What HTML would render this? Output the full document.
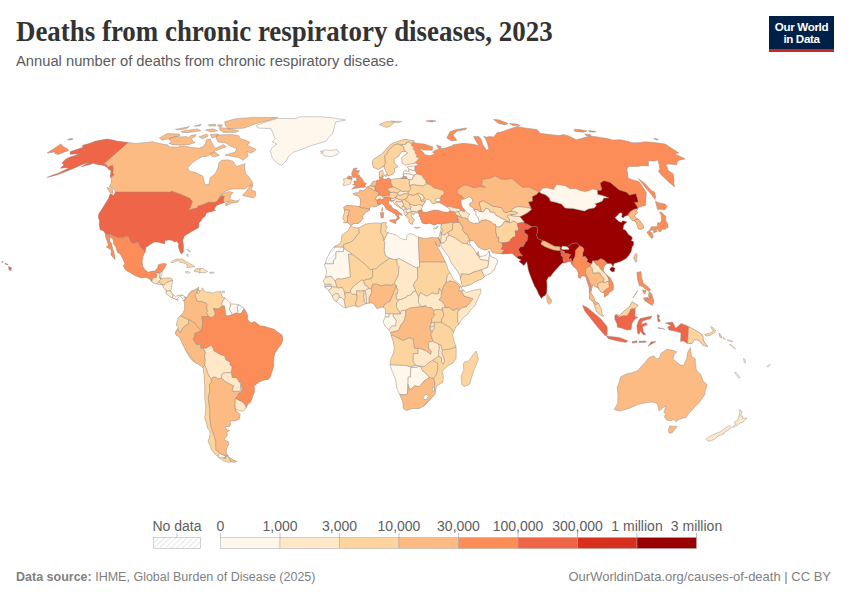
<!DOCTYPE html><html><head><meta charset="utf-8"><style>
body{margin:0;width:850px;height:600px;background:#fff;position:relative;overflow:hidden}
.t{position:absolute;white-space:nowrap;line-height:1}
</style></head><body>
<svg width="850" height="600" style="position:absolute;left:0;top:0">
<defs><pattern id="hatch" width="4" height="4" patternUnits="userSpaceOnUse" patternTransform="rotate(45)"><rect width="4" height="4" fill="#fff"/><line x1="0" y1="0" x2="0" y2="4" stroke="#d4d4d4" stroke-width="1.1"/></pattern><clipPath id="cl-africa"><path d="M350.4,226.0L348.1,230.7L346.4,231.8L342.6,234.6L341.4,237.3L341.7,240.1L339.7,243.8L334.2,246.7L330.5,251.1L327.2,257.7L324.4,265.2L326.0,268.6L326.6,272.3L325.3,277.8L323.0,281.2L325.0,284.6L324.5,287.2L327.2,288.8L329.2,291.6L331.5,294.8L332.6,297.4L334.2,300.3L338.1,303.1L342.2,306.5L345.7,308.1L350.3,306.3L353.8,305.7L358.4,307.1L362.5,305.2L365.8,303.7L370.8,302.9L373.4,303.4L376.8,308.4L380.3,307.8L382.1,306.8L385.4,309.1L385.6,314.6L384.7,318.6L383.1,321.2L384.9,326.1L387.7,328.5L390.5,332.1L391.1,335.3L393.4,342.6L394.2,347.8L393.7,352.5L390.7,359.3L389.9,364.8L391.4,369.3L395.7,379.5L397.0,389.1L399.7,394.4L401.7,399.3L403.2,404.6L403.2,408.5L406.6,410.6L412.2,408.5L419.0,408.5L424.2,405.9L431.8,397.8L435.1,394.1L436.1,387.6L437.1,385.7L443.0,382.1L443.3,375.8L442.0,371.4L447.0,366.4L453.1,362.7L456.1,358.8L456.1,347.0L453.9,340.5L453.6,337.4L452.4,335.3L454.6,330.1L455.8,326.9L458.8,324.3L461.2,320.6L463.5,317.5L467.6,314.4L471.4,309.1L474.9,305.7L477.7,299.2L480.9,292.4L480.7,288.8L477.8,289.5L473.2,290.3L466.4,292.4L462.9,289.8L461.9,289.3L460.9,285.6L458.0,283.0L454.4,279.9L453.2,278.8L450.7,273.9L447.5,268.4L446.8,264.7L442.9,256.9L440.3,251.6L437.8,247.7L435.1,241.4L435.5,243.3L437.7,245.9L439.3,246.9L440.5,242.5L438.5,237.8L434.3,237.8L431.4,237.3L429.0,238.0L424.9,238.6L418.1,237.0L415.8,236.0L413.5,234.4L409.1,233.6L407.0,235.7L406.2,239.9L402.8,239.1L399.7,238.0L396.6,235.2L392.0,233.6L388.2,232.8L385.1,231.0L387.2,227.6L385.7,224.2L386.7,222.6L384.3,222.1L381.4,223.2L375.9,222.9L369.5,223.4L365.2,224.2L361.7,226.3L358.2,227.9L353.2,227.6L351.5,225.8Z" clip-rule="evenodd"/></clipPath><clipPath id="cl-southamerica"><path d="M184.9,296.9L186.9,297.4L189.5,292.4L191.2,290.8L194.2,290.1L199.0,287.2L198.0,289.3L198.5,290.8L199.9,291.1L201.8,289.8L202.4,287.7L203.5,289.5L205.8,292.2L209.0,291.9L212.4,293.2L215.5,291.9L220.5,291.6L222.6,297.4L225.3,297.9L228.9,301.8L231.6,303.9L235.7,304.2L238.7,304.7L242.4,306.8L243.9,308.6L245.3,310.5L247.6,314.9L247.5,319.6L251.0,323.0L254.5,321.4L260.3,326.1L263.7,326.1L267.2,327.2L274.2,329.3L277.6,332.1L281.8,334.8L282.8,338.4L282.7,340.8L280.9,345.0L278.0,348.4L274.8,353.6L273.8,358.3L273.7,365.9L272.8,369.8L271.6,372.7L270.3,377.1L268.2,379.7L265.5,379.7L262.7,380.5L258.7,382.3L254.1,386.3L254.7,391.7L252.9,395.4L251.9,399.3L250.2,402.7L248.3,403.5L246.2,407.7L243.4,411.0L240.6,410.8L236.9,409.8L235.4,408.5L235.6,410.0L238.9,413.4L240.2,414.5L239.5,418.9L235.6,420.7L229.7,421.2L230.8,424.1L229.6,426.7L225.2,426.2L226.1,429.3L229.5,430.6L226.9,431.9L227.4,435.7L224.7,438.3L224.1,439.6L228.7,442.1L228.9,443.9L226.7,448.0L226.2,451.0L226.3,453.8L228.4,455.8L225.5,456.5L223.5,458.5L225.4,458.5L225.3,456.0L219.3,453.5L218.4,456.0L217.5,456.0L214.3,453.5L211.6,449.8L209.7,444.7L208.0,440.9L209.3,438.3L210.0,434.5L209.7,430.6L207.4,428.0L206.6,423.6L204.5,417.6L205.1,415.8L205.5,412.4L205.9,405.9L205.0,400.6L204.8,397.8L204.7,391.5L204.8,386.3L204.3,381.3L204.0,374.5L203.1,368.0L200.6,365.6L195.3,362.7L191.6,360.1L188.5,355.4L186.1,351.0L182.2,343.4L181.1,340.8L178.9,336.6L176.0,335.3L175.4,331.9L177.7,328.5L178.3,326.9L176.2,325.4L177.3,320.9L178.2,318.3L178.9,317.0L181.1,314.9L183.2,312.5L184.6,309.4L184.6,302.6L183.6,300.8L185.7,298.7ZM197.5,290.0L199.0,289.5L199.3,292.8L197.8,293.5Z" clip-rule="evenodd"/></clipPath><clipPath id="cl-northamerica"><path d="M70.1,151.7L76.4,149.6L83.3,147.2L82.1,145.6L90.9,142.9L95.1,141.2L107.0,139.0L113.2,140.1L117.4,141.2L122.3,141.8L128.1,142.5L135.4,143.4L141.0,142.9L150.0,142.1L151.9,141.6L155.6,142.6L162.2,144.0L167.9,144.9L168.8,146.8L178.2,147.3L179.2,145.9L184.8,145.9L190.5,147.3L198.9,148.2L202.7,146.8L205.5,143.5L206.5,139.8L210.2,138.8L211.2,141.6L214.0,146.4L215.9,148.2L223.4,144.5L226.2,146.8L215.0,151.0L206.5,156.7L202.9,156.2L194.1,161.2L187.9,167.4L188.8,170.9L195.9,172.6L202.9,176.2L203.8,179.7L204.7,185.0L209.1,184.1L210.0,177.9L215.3,173.5L217.9,168.2L218.8,162.9L221.5,160.3L227.6,159.8L232.9,161.2L236.5,166.5L241.8,164.7L245.3,163.8L244.4,166.0L245.5,173.3L248.4,176.4L251.8,180.7L253.0,184.4L248.9,185.9L244.9,188.9L233.9,188.9L229.7,189.4L224.8,192.0L218.9,197.1L224.3,193.2L229.0,191.5L233.1,192.5L230.6,195.8L229.9,199.6L234.1,200.6L237.1,200.9L239.6,199.6L237.8,202.2L231.0,203.2L226.2,206.0L225.5,203.7L229.7,201.4L226.5,201.7L224.1,202.7L220.0,204.0L216.6,205.5L214.9,208.1L214.0,209.1L215.5,210.2L212.0,211.5L207.4,212.5L206.0,213.5L205.1,216.4L202.5,218.0L201.4,220.3L199.0,222.9L198.7,227.6L196.2,228.9L192.5,231.0L187.6,233.9L184.4,236.0L182.7,240.4L183.5,245.4L183.3,252.2L181.2,254.0L179.7,251.1L178.5,246.9L178.5,243.3L176.7,241.2L174.4,242.0L172.5,240.4L169.9,240.1L168.1,240.1L164.7,240.7L164.7,243.8L161.9,243.3L158.8,242.2L154.8,242.0L152.4,243.0L148.0,245.9L145.9,247.2L145.1,251.9L143.1,256.3L142.1,261.3L142.7,266.0L144.7,269.4L148.2,272.3L152.7,271.0L154.9,271.2L157.6,267.8L158.5,264.7L160.4,263.9L165.0,263.4L166.5,264.2L164.3,268.6L162.2,271.2L162.1,273.9L160.0,278.0L162.0,278.3L166.6,278.0L171.2,278.0L172.7,280.4L171.5,286.9L170.8,290.8L172.2,293.5L175.5,296.6L179.2,295.0L182.4,295.0L184.9,296.9L185.7,298.7L183.6,300.8L182.5,298.4L180.1,296.3L177.9,297.9L177.8,300.5L175.3,299.2L173.1,298.2L170.4,297.1L165.9,293.5L166.2,290.8L163.5,287.4L162.3,284.8L158.0,284.3L153.5,283.0L151.8,281.7L149.4,278.8L145.7,277.3L141.5,278.0L135.2,275.7L130.3,272.8L125.5,269.9L123.4,266.3L124.8,263.4L123.0,259.0L120.3,254.3L117.4,252.2L115.7,246.7L113.5,243.8L113.3,239.9L110.1,236.5L109.8,241.2L111.7,243.8L112.6,249.0L113.7,251.6L114.7,256.3L115.0,259.7L113.9,258.2L110.9,254.8L111.6,250.3L106.5,246.9L108.5,245.1L106.7,239.9L105.6,237.3L105.7,234.6L104.0,231.2L99.9,229.4L99.3,224.2L99.6,220.8L98.4,217.7L98.7,214.1L103.9,206.0L108.4,198.8L110.4,193.5L113.6,195.5L115.4,192.0L113.8,188.9L109.3,186.9L111.2,183.2L111.3,178.2L110.3,176.9L111.1,170.8L108.2,168.9L107.5,167.7L104.0,165.5L97.6,164.5L93.4,163.3L89.1,164.7L81.5,166.7L89.5,161.9L81.7,164.7L76.3,167.2L67.7,170.8L61.3,173.3L56.5,175.0L47.1,177.4L52.4,175.2L58.4,173.3L69.0,167.9L64.6,167.7L60.3,168.2L64.1,164.7L61.9,162.9L66.0,158.9L70.2,157.0L79.0,154.2L74.9,153.9L70.2,154.2Z" clip-rule="evenodd"/></clipPath><clipPath id="cl-hispaniola"><path d="M194.5,270.2L196.5,268.6L199.0,268.5L203.0,268.6L207.5,271.5L205.0,272.8L201.0,272.5L199.0,273.2L198.0,271.8L196.0,271.8L194.0,271.6Z" clip-rule="evenodd"/></clipPath><clipPath id="cl-tdf"><path d="M228.2,456.3L229.2,457.3L232.7,459.8L237.1,461.5L234.7,462.3L231.2,462.0L228.0,462.3L223.6,461.0L217.8,456.8L225.2,458.0L226.3,456.0Z" clip-rule="evenodd"/></clipPath><clipPath id="cl-newguinea"><path d="M665.5,323.0L672.5,322.0L675.7,328.2L681.2,323.5L688.5,326.4L697.5,331.4L703.0,335.3L703.3,340.5L707.8,346.5L703.3,345.7L699.1,340.5L694.6,339.5L692.0,343.6L687.4,343.4L683.0,340.8L680.6,341.6L680.9,332.7L674.5,331.1L669.0,330.1L667.7,326.9L671.2,325.6Z" clip-rule="evenodd"/></clipPath><clipPath id="cl-borneo"><path d="M614.7,315.7L616.0,314.4L619.3,315.4L623.8,311.2L629.4,306.5L632.1,301.6L638.1,305.5L635.2,308.1L635.0,316.5L637.8,317.2L634.4,319.6L632.0,323.5L631.1,329.5L627.2,330.1L620.3,327.7L617.4,327.2L616.8,323.3L614.8,319.6Z" clip-rule="evenodd"/></clipPath><clipPath id="cl-ireland"><path d="M351.4,176.4L352.3,178.2L351.3,181.2L350.6,183.9L347.2,184.9L343.6,185.9L342.7,184.2L344.3,182.9L343.8,181.2L343.6,178.9L346.5,178.4L347.0,176.9L349.0,175.9Z" clip-rule="evenodd"/></clipPath><clipPath id="cl-eurasia"><path d="M350.9,225.5L349.4,224.2L347.9,222.4L343.8,222.9L344.1,220.3L342.7,218.2L344.6,212.0L344.3,209.4L343.5,207.6L345.5,206.3L346.5,205.3L351.1,205.8L355.1,206.0L358.8,206.6L359.9,206.0L360.5,202.9L360.5,199.1L358.5,196.3L353.9,194.8L353.3,193.5L353.7,193.0L359.0,192.7L359.8,190.2L363.2,190.7L365.2,189.7L366.8,186.9L368.8,186.4L371.1,184.7L372.4,181.9L375.7,180.9L379.9,179.7L379.1,175.7L379.3,171.8L383.0,170.3L383.0,173.3L383.6,174.0L382.3,176.9L382.8,178.4L384.2,179.4L386.5,178.9L388.9,177.9L390.8,179.7L393.3,178.9L399.2,178.4L402.6,177.7L403.5,175.2L403.0,173.3L403.8,171.1L405.5,170.2L408.7,172.0L408.9,168.6L406.7,167.2L408.8,166.2L414.9,166.0L418.8,165.0L415.6,163.1L409.0,164.3L405.5,165.2L402.2,163.3L401.6,157.5L407.0,153.5L407.8,153.0L405.1,151.2L401.5,151.7L399.1,155.8L394.2,159.1L394.3,163.1L398.1,166.4L394.6,168.4L394.2,172.8L392.8,174.2L388.0,175.9L387.3,174.5L385.4,170.3L383.8,166.9L382.8,166.0L382.2,167.2L378.0,169.4L373.4,167.4L372.4,163.8L372.5,161.2L374.0,158.9L378.1,156.5L381.5,154.2L384.7,150.8L387.6,147.8L389.2,145.6L393.1,142.9L394.5,142.5L397.8,141.4L401.6,140.1L405.2,139.5L409.8,139.9L414.4,140.9L412.1,142.2L418.2,143.4L424.3,144.0L432.8,146.9L432.3,150.3L423.6,150.1L418.6,148.3L423.3,152.3L424.6,154.4L428.7,155.6L430.4,155.4L434.4,153.9L432.5,151.9L435.6,149.9L439.0,149.6L436.4,144.9L441.3,146.7L440.3,148.7L445.2,148.1L452.7,145.6L452.9,144.8L462.9,143.2L471.3,144.0L478.9,145.5L475.9,140.9L473.6,136.4L478.9,136.4L481.2,139.4L482.8,144.8L486.6,150.1L488.9,149.4L487.4,143.2L485.1,137.9L483.5,136.4L486.6,137.1L490.4,136.4L493.5,137.1L497.3,132.5L501.9,131.8L508.0,129.5L517.2,126.4L524.8,127.9L537.1,129.5L540.1,133.3L552.4,134.8L559.4,135.5L563.2,134.6L568.8,135.9L576.1,139.7L581.2,138.6L588.1,136.5L588.8,135.9L594.5,136.5L607.3,138.6L612.8,140.1L620.3,139.7L627.6,141.2L631.5,142.7L638.1,142.7L645.2,141.8L654.5,142.5L665.2,144.0L678.9,153.0L674.6,153.7L685.2,158.9L678.4,160.5L677.2,162.4L676.6,164.7L668.3,164.0L665.8,165.0L667.8,168.4L667.8,170.1L673.2,174.0L674.0,179.4L673.8,183.2L674.8,186.9L668.6,181.9L660.9,174.5L658.3,170.8L659.8,169.6L659.5,166.0L657.8,160.0L653.8,161.2L648.5,160.5L648.4,166.0L642.2,165.7L637.8,166.4L628.5,166.4L626.9,169.6L628.3,178.2L632.5,179.7L638.8,181.4L642.1,185.7L644.3,189.4L646.3,192.2L646.0,198.3L645.6,205.5L639.0,207.1L637.7,209.1L636.6,210.4L637.5,213.0L634.7,215.6L635.2,217.2L638.9,219.5L643.5,225.5L643.8,227.9L641.1,229.2L638.7,229.2L636.6,224.2L635.6,221.6L632.0,220.3L630.4,218.7L629.6,216.1L627.7,215.3L624.4,216.4L623.2,218.0L621.6,216.4L622.4,213.8L621.0,212.8L619.5,213.0L617.5,215.3L614.9,217.7L618.8,221.6L621.3,222.4L622.8,220.8L626.9,221.9L624.6,223.9L623.7,225.2L623.0,229.2L625.7,230.2L628.4,234.4L631.7,236.7L632.4,238.6L631.0,240.4L633.7,241.7L633.5,245.1L632.3,246.4L631.1,251.6L628.7,255.6L626.1,258.4L621.0,261.3L617.4,262.6L614.1,263.4L613.1,266.5L611.2,263.4L609.8,263.4L607.4,263.4L604.7,265.2L603.5,268.6L603.3,270.7L605.6,273.9L608.5,276.5L610.0,277.5L613.1,283.5L613.5,287.7L613.0,290.1L609.2,292.4L608.0,294.8L604.2,297.1L604.4,293.7L603.2,292.4L600.8,291.9L598.1,288.0L594.6,286.4L593.2,284.3L592.1,286.9L591.0,292.7L593.8,297.4L594.7,300.8L598.8,303.7L601.6,309.7L602.2,314.4L603.8,315.9L602.0,316.2L598.9,313.8L596.8,311.8L594.3,305.5L593.7,302.6L591.0,300.0L589.3,298.7L589.5,293.5L589.1,287.2L587.2,281.7L585.7,276.5L581.9,275.4L580.4,278.3L578.3,277.5L578.3,272.5L576.0,268.6L573.7,267.1L571.7,264.2L570.4,261.3L567.6,262.1L564.3,262.9L562.3,263.1L559.9,265.2L557.7,267.8L555.1,270.5L552.7,273.3L550.7,276.2L548.3,277.3L546.6,280.4L547.0,285.4L546.7,292.7L545.2,295.6L542.9,296.6L541.4,298.4L538.5,293.7L537.0,290.1L534.5,285.9L531.6,279.1L529.2,272.5L528.4,269.9L527.4,264.4L526.8,261.6L523.9,265.5L518.9,261.3L521.4,260.0L517.4,257.9L513.6,254.8L512.3,253.2L507.9,253.7L503.0,254.0L501.2,253.7L496.6,253.2L492.7,252.7L490.4,249.0L488.8,248.8L485.6,250.1L482.7,249.5L477.9,246.7L476.0,244.1L473.8,240.9L471.5,240.4L469.4,241.2L469.6,243.0L471.1,245.9L473.9,249.0L475.5,251.6L477.2,255.0L478.0,251.4L478.9,253.5L479.2,256.3L481.2,256.3L485.4,255.6L487.2,253.5L488.6,252.2L489.1,250.6L489.9,255.6L492.5,257.4L495.1,257.9L498.0,260.8L495.6,266.3L494.3,269.9L492.2,271.0L491.6,272.8L488.8,274.4L486.1,275.2L482.3,278.8L475.3,281.7L471.8,284.1L466.2,286.1L462.5,286.7L460.6,279.6L459.9,275.4L456.6,269.9L451.7,263.4L448.6,256.6L444.8,251.6L441.0,246.1L440.7,242.5L440.5,242.5L438.5,237.8L439.6,235.7L439.8,233.9L440.6,231.0L441.1,229.7L440.8,226.8L441.3,223.9L439.8,223.9L437.7,223.4L434.5,225.2L432.2,224.2L429.3,223.2L425.7,223.9L424.1,223.4L422.1,222.9L421.4,220.3L420.5,219.3L420.4,216.4L418.9,216.4L419.2,214.8L418.6,213.5L417.9,212.9L414.7,212.8L413.7,215.1L411.6,213.5L411.1,215.1L411.9,216.9L412.9,218.7L414.5,219.8L413.9,220.6L412.8,222.1L412.7,224.2L411.7,224.2L409.9,223.4L408.4,220.8L409.6,219.5L407.3,217.7L406.1,216.4L404.2,213.8L404.0,211.7L402.8,209.7L401.0,208.4L397.2,206.0L394.6,204.5L392.8,201.4L391.1,201.9L391.5,200.6L388.4,201.1L388.6,203.7L391.2,205.8L392.8,208.6L397.1,210.2L398.8,212.2L401.2,213.5L402.2,215.6L399.5,214.1L398.2,216.1L399.6,217.7L398.6,219.3L396.5,220.3L396.8,218.0L397.1,216.4L394.4,213.5L393.1,213.0L391.8,212.0L388.7,210.4L386.3,208.9L384.5,206.0L383.4,204.5L381.5,203.7L378.6,205.3L375.3,207.1L374.1,206.6L372.4,206.3L371.1,206.0L369.5,208.6L369.7,210.2L367.6,211.5L365.5,212.2L364.9,213.3L362.4,216.4L363.4,218.5L361.9,219.5L360.8,221.3L358.2,223.7L357.6,223.4L353.5,223.7L351.3,225.2ZM422.5,211.5L421.6,208.6L422.9,205.3L424.9,202.4L426.2,199.5L428.2,199.1L430.3,200.8L431.1,202.2L432.8,204.1L434.0,203.6L437.3,202.8L439.4,202.6L442.6,204.5L446.8,206.9L449.6,209.0L450.1,211.1L448.0,212.3L443.1,211.9L438.1,210.2L433.6,210.2L430.3,211.1L427.0,212.3L424.1,212.3ZM461.0,200.6L461.7,199.6L464.7,199.1L469.0,196.8L471.7,198.3L472.9,201.4L469.5,203.5L469.8,205.8L473.6,208.6L474.5,211.2L476.0,211.2L475.8,215.1L478.3,218.0L479.3,222.9L474.2,223.4L469.9,221.9L467.9,219.3L468.2,216.4L469.8,214.1L468.1,213.8L464.7,209.9L462.5,207.3L461.2,203.5ZM435.2,199.5L438.1,198.3L440.6,198.7L440.2,201.2L437.3,201.6L435.6,201.2Z" clip-rule="evenodd"/></clipPath></defs>
<path d="M350.9,225.5L349.4,224.2L347.9,222.4L343.8,222.9L344.1,220.3L342.7,218.2L344.6,212.0L344.3,209.4L343.5,207.6L345.5,206.3L346.5,205.3L351.1,205.8L355.1,206.0L358.8,206.6L359.9,206.0L360.5,202.9L360.5,199.1L358.5,196.3L353.9,194.8L353.3,193.5L353.7,193.0L359.0,192.7L359.8,190.2L363.2,190.7L365.2,189.7L366.8,186.9L368.8,186.4L371.1,184.7L372.4,181.9L375.7,180.9L379.9,179.7L379.1,175.7L379.3,171.8L383.0,170.3L383.0,173.3L383.6,174.0L382.3,176.9L382.8,178.4L384.2,179.4L386.5,178.9L388.9,177.9L390.8,179.7L393.3,178.9L399.2,178.4L402.6,177.7L403.5,175.2L403.0,173.3L403.8,171.1L405.5,170.2L408.7,172.0L408.9,168.6L406.7,167.2L408.8,166.2L414.9,166.0L418.8,165.0L415.6,163.1L409.0,164.3L405.5,165.2L402.2,163.3L401.6,157.5L407.0,153.5L407.8,153.0L405.1,151.2L401.5,151.7L399.1,155.8L394.2,159.1L394.3,163.1L398.1,166.4L394.6,168.4L394.2,172.8L392.8,174.2L388.0,175.9L387.3,174.5L385.4,170.3L383.8,166.9L382.8,166.0L382.2,167.2L378.0,169.4L373.4,167.4L372.4,163.8L372.5,161.2L374.0,158.9L378.1,156.5L381.5,154.2L384.7,150.8L387.6,147.8L389.2,145.6L393.1,142.9L394.5,142.5L397.8,141.4L401.6,140.1L405.2,139.5L409.8,139.9L414.4,140.9L412.1,142.2L418.2,143.4L424.3,144.0L432.8,146.9L432.3,150.3L423.6,150.1L418.6,148.3L423.3,152.3L424.6,154.4L428.7,155.6L430.4,155.4L434.4,153.9L432.5,151.9L435.6,149.9L439.0,149.6L436.4,144.9L441.3,146.7L440.3,148.7L445.2,148.1L452.7,145.6L452.9,144.8L462.9,143.2L471.3,144.0L478.9,145.5L475.9,140.9L473.6,136.4L478.9,136.4L481.2,139.4L482.8,144.8L486.6,150.1L488.9,149.4L487.4,143.2L485.1,137.9L483.5,136.4L486.6,137.1L490.4,136.4L493.5,137.1L497.3,132.5L501.9,131.8L508.0,129.5L517.2,126.4L524.8,127.9L537.1,129.5L540.1,133.3L552.4,134.8L559.4,135.5L563.2,134.6L568.8,135.9L576.1,139.7L581.2,138.6L588.1,136.5L588.8,135.9L594.5,136.5L607.3,138.6L612.8,140.1L620.3,139.7L627.6,141.2L631.5,142.7L638.1,142.7L645.2,141.8L654.5,142.5L665.2,144.0L678.9,153.0L674.6,153.7L685.2,158.9L678.4,160.5L677.2,162.4L676.6,164.7L668.3,164.0L665.8,165.0L667.8,168.4L667.8,170.1L673.2,174.0L674.0,179.4L673.8,183.2L674.8,186.9L668.6,181.9L660.9,174.5L658.3,170.8L659.8,169.6L659.5,166.0L657.8,160.0L653.8,161.2L648.5,160.5L648.4,166.0L642.2,165.7L637.8,166.4L628.5,166.4L626.9,169.6L628.3,178.2L632.5,179.7L638.8,181.4L642.1,185.7L644.3,189.4L646.3,192.2L646.0,198.3L645.6,205.5L639.0,207.1L637.7,209.1L636.6,210.4L637.5,213.0L634.7,215.6L635.2,217.2L638.9,219.5L643.5,225.5L643.8,227.9L641.1,229.2L638.7,229.2L636.6,224.2L635.6,221.6L632.0,220.3L630.4,218.7L629.6,216.1L627.7,215.3L624.4,216.4L623.2,218.0L621.6,216.4L622.4,213.8L621.0,212.8L619.5,213.0L617.5,215.3L614.9,217.7L618.8,221.6L621.3,222.4L622.8,220.8L626.9,221.9L624.6,223.9L623.7,225.2L623.0,229.2L625.7,230.2L628.4,234.4L631.7,236.7L632.4,238.6L631.0,240.4L633.7,241.7L633.5,245.1L632.3,246.4L631.1,251.6L628.7,255.6L626.1,258.4L621.0,261.3L617.4,262.6L614.1,263.4L613.1,266.5L611.2,263.4L609.8,263.4L607.4,263.4L604.7,265.2L603.5,268.6L603.3,270.7L605.6,273.9L608.5,276.5L610.0,277.5L613.1,283.5L613.5,287.7L613.0,290.1L609.2,292.4L608.0,294.8L604.2,297.1L604.4,293.7L603.2,292.4L600.8,291.9L598.1,288.0L594.6,286.4L593.2,284.3L592.1,286.9L591.0,292.7L593.8,297.4L594.7,300.8L598.8,303.7L601.6,309.7L602.2,314.4L603.8,315.9L602.0,316.2L598.9,313.8L596.8,311.8L594.3,305.5L593.7,302.6L591.0,300.0L589.3,298.7L589.5,293.5L589.1,287.2L587.2,281.7L585.7,276.5L581.9,275.4L580.4,278.3L578.3,277.5L578.3,272.5L576.0,268.6L573.7,267.1L571.7,264.2L570.4,261.3L567.6,262.1L564.3,262.9L562.3,263.1L559.9,265.2L557.7,267.8L555.1,270.5L552.7,273.3L550.7,276.2L548.3,277.3L546.6,280.4L547.0,285.4L546.7,292.7L545.2,295.6L542.9,296.6L541.4,298.4L538.5,293.7L537.0,290.1L534.5,285.9L531.6,279.1L529.2,272.5L528.4,269.9L527.4,264.4L526.8,261.6L523.9,265.5L518.9,261.3L521.4,260.0L517.4,257.9L513.6,254.8L512.3,253.2L507.9,253.7L503.0,254.0L501.2,253.7L496.6,253.2L492.7,252.7L490.4,249.0L488.8,248.8L485.6,250.1L482.7,249.5L477.9,246.7L476.0,244.1L473.8,240.9L471.5,240.4L469.4,241.2L469.6,243.0L471.1,245.9L473.9,249.0L475.5,251.6L477.2,255.0L478.0,251.4L478.9,253.5L479.2,256.3L481.2,256.3L485.4,255.6L487.2,253.5L488.6,252.2L489.1,250.6L489.9,255.6L492.5,257.4L495.1,257.9L498.0,260.8L495.6,266.3L494.3,269.9L492.2,271.0L491.6,272.8L488.8,274.4L486.1,275.2L482.3,278.8L475.3,281.7L471.8,284.1L466.2,286.1L462.5,286.7L460.6,279.6L459.9,275.4L456.6,269.9L451.7,263.4L448.6,256.6L444.8,251.6L441.0,246.1L440.7,242.5L440.5,242.5L438.5,237.8L439.6,235.7L439.8,233.9L440.6,231.0L441.1,229.7L440.8,226.8L441.3,223.9L439.8,223.9L437.7,223.4L434.5,225.2L432.2,224.2L429.3,223.2L425.7,223.9L424.1,223.4L422.1,222.9L421.4,220.3L420.5,219.3L420.4,216.4L418.9,216.4L419.2,214.8L418.6,213.5L417.9,212.9L414.7,212.8L413.7,215.1L411.6,213.5L411.1,215.1L411.9,216.9L412.9,218.7L414.5,219.8L413.9,220.6L412.8,222.1L412.7,224.2L411.7,224.2L409.9,223.4L408.4,220.8L409.6,219.5L407.3,217.7L406.1,216.4L404.2,213.8L404.0,211.7L402.8,209.7L401.0,208.4L397.2,206.0L394.6,204.5L392.8,201.4L391.1,201.9L391.5,200.6L388.4,201.1L388.6,203.7L391.2,205.8L392.8,208.6L397.1,210.2L398.8,212.2L401.2,213.5L402.2,215.6L399.5,214.1L398.2,216.1L399.6,217.7L398.6,219.3L396.5,220.3L396.8,218.0L397.1,216.4L394.4,213.5L393.1,213.0L391.8,212.0L388.7,210.4L386.3,208.9L384.5,206.0L383.4,204.5L381.5,203.7L378.6,205.3L375.3,207.1L374.1,206.6L372.4,206.3L371.1,206.0L369.5,208.6L369.7,210.2L367.6,211.5L365.5,212.2L364.9,213.3L362.4,216.4L363.4,218.5L361.9,219.5L360.8,221.3L358.2,223.7L357.6,223.4L353.5,223.7L351.3,225.2ZM422.5,211.5L421.6,208.6L422.9,205.3L424.9,202.4L426.2,199.5L428.2,199.1L430.3,200.8L431.1,202.2L432.8,204.1L434.0,203.6L437.3,202.8L439.4,202.6L442.6,204.5L446.8,206.9L449.6,209.0L450.1,211.1L448.0,212.3L443.1,211.9L438.1,210.2L433.6,210.2L430.3,211.1L427.0,212.3L424.1,212.3ZM461.0,200.6L461.7,199.6L464.7,199.1L469.0,196.8L471.7,198.3L472.9,201.4L469.5,203.5L469.8,205.8L473.6,208.6L474.5,211.2L476.0,211.2L475.8,215.1L478.3,218.0L479.3,222.9L474.2,223.4L469.9,221.9L467.9,219.3L468.2,216.4L469.8,214.1L468.1,213.8L464.7,209.9L462.5,207.3L461.2,203.5ZM435.2,199.5L438.1,198.3L440.6,198.7L440.2,201.2L437.3,201.6L435.6,201.2Z" fill="#fc8d59" fill-rule="evenodd"/>
<path d="M350.4,226.0L348.1,230.7L346.4,231.8L342.6,234.6L341.4,237.3L341.7,240.1L339.7,243.8L334.2,246.7L330.5,251.1L327.2,257.7L324.4,265.2L326.0,268.6L326.6,272.3L325.3,277.8L323.0,281.2L325.0,284.6L324.5,287.2L327.2,288.8L329.2,291.6L331.5,294.8L332.6,297.4L334.2,300.3L338.1,303.1L342.2,306.5L345.7,308.1L350.3,306.3L353.8,305.7L358.4,307.1L362.5,305.2L365.8,303.7L370.8,302.9L373.4,303.4L376.8,308.4L380.3,307.8L382.1,306.8L385.4,309.1L385.6,314.6L384.7,318.6L383.1,321.2L384.9,326.1L387.7,328.5L390.5,332.1L391.1,335.3L393.4,342.6L394.2,347.8L393.7,352.5L390.7,359.3L389.9,364.8L391.4,369.3L395.7,379.5L397.0,389.1L399.7,394.4L401.7,399.3L403.2,404.6L403.2,408.5L406.6,410.6L412.2,408.5L419.0,408.5L424.2,405.9L431.8,397.8L435.1,394.1L436.1,387.6L437.1,385.7L443.0,382.1L443.3,375.8L442.0,371.4L447.0,366.4L453.1,362.7L456.1,358.8L456.1,347.0L453.9,340.5L453.6,337.4L452.4,335.3L454.6,330.1L455.8,326.9L458.8,324.3L461.2,320.6L463.5,317.5L467.6,314.4L471.4,309.1L474.9,305.7L477.7,299.2L480.9,292.4L480.7,288.8L477.8,289.5L473.2,290.3L466.4,292.4L462.9,289.8L461.9,289.3L460.9,285.6L458.0,283.0L454.4,279.9L453.2,278.8L450.7,273.9L447.5,268.4L446.8,264.7L442.9,256.9L440.3,251.6L437.8,247.7L435.1,241.4L435.5,243.3L437.7,245.9L439.3,246.9L440.5,242.5L438.5,237.8L434.3,237.8L431.4,237.3L429.0,238.0L424.9,238.6L418.1,237.0L415.8,236.0L413.5,234.4L409.1,233.6L407.0,235.7L406.2,239.9L402.8,239.1L399.7,238.0L396.6,235.2L392.0,233.6L388.2,232.8L385.1,231.0L387.2,227.6L385.7,224.2L386.7,222.6L384.3,222.1L381.4,223.2L375.9,222.9L369.5,223.4L365.2,224.2L361.7,226.3L358.2,227.9L353.2,227.6L351.5,225.8Z" fill="#fdd49e" fill-rule="evenodd"/>
<path d="M476.1,351.0L477.5,354.9L478.4,360.1L476.5,364.0L475.4,366.7L472.9,373.2L469.9,383.6L468.6,384.9L464.4,386.5L461.9,384.9L461.5,381.0L461.0,375.8L463.8,370.6L463.3,364.0L464.6,361.9L468.7,360.9L472.7,355.1Z" fill="#fdd49e" fill-rule="evenodd"/>
<path d="M547.0,294.0L549.2,296.6L551.6,300.0L551.1,302.9L548.8,304.2L547.6,303.1L546.7,298.7Z" fill="#fdbb84" fill-rule="evenodd"/>
<path d="M365.8,186.7L365.0,185.7L366.4,183.2L363.6,182.2L363.2,180.4L361.8,178.2L360.3,176.9L359.2,175.0L357.3,174.5L358.2,173.3L359.0,171.8L359.6,170.6L356.4,170.6L355.5,169.9L357.4,168.2L353.7,168.2L352.6,170.8L351.6,173.3L352.2,176.2L353.3,177.7L356.6,177.2L356.4,178.9L357.1,180.9L354.2,180.9L353.8,182.4L354.7,183.7L352.5,184.7L355.1,185.4L357.0,185.9L354.7,186.4L351.6,189.2L354.8,188.5L358.2,187.9L360.4,187.4L362.8,187.4L363.6,187.5Z" fill="#fc8d59" fill-rule="evenodd"/>
<path d="M351.4,176.4L352.3,178.2L351.3,181.2L350.6,183.9L347.2,184.9L343.6,185.9L342.7,184.2L344.3,182.9L343.8,181.2L343.6,178.9L346.5,178.4L347.0,176.9L349.0,175.9Z" fill="#fee8c8" fill-rule="evenodd"/>
<path d="M323.9,155.8L323.3,154.2L320.8,153.2L323.7,151.9L320.3,151.7L324.1,149.9L331.0,150.3L337.1,149.6L339.2,152.6L337.4,154.4L330.9,156.8L326.5,156.1Z" fill="#fff7ec" fill-rule="evenodd"/>
<path d="M389.6,220.0L396.5,219.5L395.6,223.7L389.9,221.3Z" fill="#fc8d59" fill-rule="evenodd"/>
<path d="M380.4,212.5L383.7,212.5L383.5,217.4L381.0,218.0Z" fill="#fc8d59" fill-rule="evenodd"/>
<path d="M382.7,207.3L383.0,209.9L382.4,211.5L381.1,210.2Z" fill="#fdbb84" fill-rule="evenodd"/>
<path d="M414.1,227.3L420.2,227.6L416.4,228.4Z" fill="#fdd49e" fill-rule="evenodd"/>
<path d="M433.3,228.1L438.1,226.3L436.8,228.4L434.3,229.2Z" fill="#fee8c8" fill-rule="evenodd"/>
<path d="M379.2,124.5L386.0,121.6L394.7,122.0L389.9,126.4L386.4,127.4L383.9,126.4Z" fill="#fdd49e" fill-rule="evenodd"/>
<path d="M390.9,121.1L401.7,121.4L397.8,122.9Z" fill="#fdd49e" fill-rule="evenodd"/>
<path d="M653.7,138.6L655.8,138.4L658.4,139.9L656.8,139.9Z" fill="#fc8d59" fill-rule="evenodd"/>
<path d="M70.2,138.4L73.2,139.0L71.6,139.7L67.6,139.9Z" fill="#fc8d59" fill-rule="evenodd"/>
<path d="M60.8,144.0L63.5,146.7L67.4,148.7L68.7,150.5L64.5,151.9L58.4,154.4L54.9,153.7L54.9,151.9L47.1,153.0Z" fill="#fc8d59" fill-rule="evenodd"/>
<path d="M661.2,212.0L666.0,216.4L665.5,219.5L668.2,225.5L667.9,228.1L666.4,227.3L665.7,229.2L661.8,229.2L661.7,229.9L660.4,232.0L658.7,231.2L657.8,229.2L653.4,229.9L649.3,230.7L649.6,229.7L651.3,226.8L657.3,226.5L657.8,222.1L659.6,223.4L661.5,220.6L661.2,215.3L659.7,212.0Z" fill="#fc8d59" fill-rule="evenodd"/>
<path d="M657.8,209.9L656.7,206.6L655.4,201.1L658.3,202.7L665.0,204.0L667.1,206.6L664.7,209.9L659.4,209.1Z" fill="#fc8d59" fill-rule="evenodd"/>
<path d="M648.9,230.7L652.1,232.8L653.1,237.5L651.6,238.6L648.0,234.1L646.9,232.3Z" fill="#fc8d59" fill-rule="evenodd"/>
<path d="M653.5,233.1L657.6,231.2L656.2,229.9L653.4,230.5Z" fill="#fc8d59" fill-rule="evenodd"/>
<path d="M638.4,178.7L644.8,183.2L651.6,190.7L654.8,192.2L655.7,197.6L654.9,199.6L651.4,194.5L644.9,186.9Z" fill="#fc8d59" fill-rule="evenodd"/>
<path d="M635.9,253.5L637.2,254.3L636.5,262.1L635.8,262.1L633.7,258.2L635.0,254.3Z" fill="#fdbb84" fill-rule="evenodd"/>
<path d="M612.5,267.1L615.0,268.1L614.3,271.5L612.2,272.0L609.7,269.4L611.0,267.3Z" fill="#990000" fill-rule="evenodd"/>
<path d="M614.7,315.7L616.0,314.4L619.3,315.4L623.8,311.2L629.4,306.5L632.1,301.6L638.1,305.5L635.2,308.1L635.0,316.5L637.8,317.2L634.4,319.6L632.0,323.5L631.1,329.5L627.2,330.1L620.3,327.7L617.4,327.2L616.8,323.3L614.8,319.6Z" fill="#ef6548" fill-rule="evenodd"/>
<path d="M665.5,323.0L672.5,322.0L675.7,328.2L681.2,323.5L688.5,326.4L697.5,331.4L703.0,335.3L703.3,340.5L707.8,346.5L703.3,345.7L699.1,340.5L694.6,339.5L692.0,343.6L687.4,343.4L683.0,340.8L680.6,341.6L680.9,332.7L674.5,331.1L669.0,330.1L667.7,326.9L671.2,325.6Z" fill="#ef6548" fill-rule="evenodd"/>
<path d="M648.0,346.5L651.2,341.8L656.0,341.6L650.5,344.7Z" fill="#ef6548" fill-rule="evenodd"/>
<path d="M638.7,342.6L639.2,341.3L646.2,341.0L645.6,342.3Z" fill="#ef6548" fill-rule="evenodd"/>
<path d="M632.0,343.1L632.3,341.6L637.0,340.8L636.8,342.6Z" fill="#ef6548" fill-rule="evenodd"/>
<path d="M657.4,314.4L659.7,315.7L658.6,318.3L660.5,320.9L658.1,322.0L657.5,318.3Z" fill="#ef6548" fill-rule="evenodd"/>
<path d="M658.4,327.4L664.8,329.5L661.9,328.2L658.9,328.7Z" fill="#ef6548" fill-rule="evenodd"/>
<path d="M690.4,347.6L691.5,356.2L695.3,358.8L695.4,363.8L696.4,370.0L700.8,374.8L703.0,380.8L707.3,384.9L705.0,391.5L704.9,394.4L698.7,403.2L696.1,405.6L693.8,408.2L688.6,413.7L686.0,417.6L679.9,418.9L676.0,421.8L674.0,419.4L670.2,421.0L666.7,419.9L664.4,416.8L665.7,413.2L663.8,412.7L664.6,411.1L665.5,405.9L662.7,408.0L659.0,410.8L657.7,405.1L657.2,403.5L651.9,401.9L647.3,402.5L637.7,404.6L629.5,408.2L619.7,411.1L614.2,409.5L617.7,403.2L618.0,394.9L617.1,387.8L618.4,384.7L620.7,376.8L627.0,373.7L631.9,372.7L637.8,370.6L641.1,366.7L644.8,362.7L649.0,357.5L653.8,355.7L656.2,358.8L659.2,358.5L660.9,353.6L663.0,352.0L667.2,349.1L675.0,351.0L676.8,351.8L674.4,354.4L672.9,358.8L676.8,362.2L680.8,365.1L683.7,365.3L686.6,358.8L687.7,352.3Z" fill="#fdbb84" fill-rule="evenodd"/>
<path d="M669.7,425.9L677.1,426.4L672.5,432.4L669.3,433.4L668.2,430.1Z" fill="#fdbb84" fill-rule="evenodd"/>
<path d="M739.9,409.5L742.1,411.9L740.6,415.8L742.6,416.3L742.5,418.4L747.0,418.1L743.1,422.0L740.5,422.8L737.1,425.4L732.5,427.5L735.6,424.1L734.2,422.3L737.3,420.2L739.4,415.0Z" fill="#fee8c8" fill-rule="evenodd"/>
<path d="M729.6,425.4L731.6,427.2L727.9,430.3L724.4,432.4L723.8,433.9L718.6,435.7L714.4,439.3L710.4,441.1L707.9,441.1L706.0,439.1L708.7,437.0L714.0,434.2L720.0,431.9L724.7,428.5L727.6,426.4Z" fill="#fee8c8" fill-rule="evenodd"/>
<path d="M70.1,151.7L76.4,149.6L83.3,147.2L82.1,145.6L90.9,142.9L95.1,141.2L107.0,139.0L113.2,140.1L117.4,141.2L122.3,141.8L128.1,142.5L135.4,143.4L141.0,142.9L150.0,142.1L151.9,141.6L155.6,142.6L162.2,144.0L167.9,144.9L168.8,146.8L178.2,147.3L179.2,145.9L184.8,145.9L190.5,147.3L198.9,148.2L202.7,146.8L205.5,143.5L206.5,139.8L210.2,138.8L211.2,141.6L214.0,146.4L215.9,148.2L223.4,144.5L226.2,146.8L215.0,151.0L206.5,156.7L202.9,156.2L194.1,161.2L187.9,167.4L188.8,170.9L195.9,172.6L202.9,176.2L203.8,179.7L204.7,185.0L209.1,184.1L210.0,177.9L215.3,173.5L217.9,168.2L218.8,162.9L221.5,160.3L227.6,159.8L232.9,161.2L236.5,166.5L241.8,164.7L245.3,163.8L244.4,166.0L245.5,173.3L248.4,176.4L251.8,180.7L253.0,184.4L248.9,185.9L244.9,188.9L233.9,188.9L229.7,189.4L224.8,192.0L218.9,197.1L224.3,193.2L229.0,191.5L233.1,192.5L230.6,195.8L229.9,199.6L234.1,200.6L237.1,200.9L239.6,199.6L237.8,202.2L231.0,203.2L226.2,206.0L225.5,203.7L229.7,201.4L226.5,201.7L224.1,202.7L220.0,204.0L216.6,205.5L214.9,208.1L214.0,209.1L215.5,210.2L212.0,211.5L207.4,212.5L206.0,213.5L205.1,216.4L202.5,218.0L201.4,220.3L199.0,222.9L198.7,227.6L196.2,228.9L192.5,231.0L187.6,233.9L184.4,236.0L182.7,240.4L183.5,245.4L183.3,252.2L181.2,254.0L179.7,251.1L178.5,246.9L178.5,243.3L176.7,241.2L174.4,242.0L172.5,240.4L169.9,240.1L168.1,240.1L164.7,240.7L164.7,243.8L161.9,243.3L158.8,242.2L154.8,242.0L152.4,243.0L148.0,245.9L145.9,247.2L145.1,251.9L143.1,256.3L142.1,261.3L142.7,266.0L144.7,269.4L148.2,272.3L152.7,271.0L154.9,271.2L157.6,267.8L158.5,264.7L160.4,263.9L165.0,263.4L166.5,264.2L164.3,268.6L162.2,271.2L162.1,273.9L160.0,278.0L162.0,278.3L166.6,278.0L171.2,278.0L172.7,280.4L171.5,286.9L170.8,290.8L172.2,293.5L175.5,296.6L179.2,295.0L182.4,295.0L184.9,296.9L185.7,298.7L183.6,300.8L182.5,298.4L180.1,296.3L177.9,297.9L177.8,300.5L175.3,299.2L173.1,298.2L170.4,297.1L165.9,293.5L166.2,290.8L163.5,287.4L162.3,284.8L158.0,284.3L153.5,283.0L151.8,281.7L149.4,278.8L145.7,277.3L141.5,278.0L135.2,275.7L130.3,272.8L125.5,269.9L123.4,266.3L124.8,263.4L123.0,259.0L120.3,254.3L117.4,252.2L115.7,246.7L113.5,243.8L113.3,239.9L110.1,236.5L109.8,241.2L111.7,243.8L112.6,249.0L113.7,251.6L114.7,256.3L115.0,259.7L113.9,258.2L110.9,254.8L111.6,250.3L106.5,246.9L108.5,245.1L106.7,239.9L105.6,237.3L105.7,234.6L104.0,231.2L99.9,229.4L99.3,224.2L99.6,220.8L98.4,217.7L98.7,214.1L103.9,206.0L108.4,198.8L110.4,193.5L113.6,195.5L115.4,192.0L113.8,188.9L109.3,186.9L111.2,183.2L111.3,178.2L110.3,176.9L111.1,170.8L108.2,168.9L107.5,167.7L104.0,165.5L97.6,164.5L93.4,163.3L89.1,164.7L81.5,166.7L89.5,161.9L81.7,164.7L76.3,167.2L67.7,170.8L61.3,173.3L56.5,175.0L47.1,177.4L52.4,175.2L58.4,173.3L69.0,167.9L64.6,167.7L60.3,168.2L64.1,164.7L61.9,162.9L66.0,158.9L70.2,157.0L79.0,154.2L74.9,153.9L70.2,154.2Z" fill="#fdbb84" fill-rule="evenodd"/>
<path d="M184.9,296.9L186.9,297.4L189.5,292.4L191.2,290.8L194.2,290.1L199.0,287.2L198.0,289.3L198.5,290.8L199.9,291.1L201.8,289.8L202.4,287.7L203.5,289.5L205.8,292.2L209.0,291.9L212.4,293.2L215.5,291.9L220.5,291.6L222.6,297.4L225.3,297.9L228.9,301.8L231.6,303.9L235.7,304.2L238.7,304.7L242.4,306.8L243.9,308.6L245.3,310.5L247.6,314.9L247.5,319.6L251.0,323.0L254.5,321.4L260.3,326.1L263.7,326.1L267.2,327.2L274.2,329.3L277.6,332.1L281.8,334.8L282.8,338.4L282.7,340.8L280.9,345.0L278.0,348.4L274.8,353.6L273.8,358.3L273.7,365.9L272.8,369.8L271.6,372.7L270.3,377.1L268.2,379.7L265.5,379.7L262.7,380.5L258.7,382.3L254.1,386.3L254.7,391.7L252.9,395.4L251.9,399.3L250.2,402.7L248.3,403.5L246.2,407.7L243.4,411.0L240.6,410.8L236.9,409.8L235.4,408.5L235.6,410.0L238.9,413.4L240.2,414.5L239.5,418.9L235.6,420.7L229.7,421.2L230.8,424.1L229.6,426.7L225.2,426.2L226.1,429.3L229.5,430.6L226.9,431.9L227.4,435.7L224.7,438.3L224.1,439.6L228.7,442.1L228.9,443.9L226.7,448.0L226.2,451.0L226.3,453.8L228.4,455.8L225.5,456.5L223.5,458.5L225.4,458.5L225.3,456.0L219.3,453.5L218.4,456.0L217.5,456.0L214.3,453.5L211.6,449.8L209.7,444.7L208.0,440.9L209.3,438.3L210.0,434.5L209.7,430.6L207.4,428.0L206.6,423.6L204.5,417.6L205.1,415.8L205.5,412.4L205.9,405.9L205.0,400.6L204.8,397.8L204.7,391.5L204.8,386.3L204.3,381.3L204.0,374.5L203.1,368.0L200.6,365.6L195.3,362.7L191.6,360.1L188.5,355.4L186.1,351.0L182.2,343.4L181.1,340.8L178.9,336.6L176.0,335.3L175.4,331.9L177.7,328.5L178.3,326.9L176.2,325.4L177.3,320.9L178.2,318.3L178.9,317.0L181.1,314.9L183.2,312.5L184.6,309.4L184.6,302.6L183.6,300.8L185.7,298.7ZM197.5,290.0L199.0,289.5L199.3,292.8L197.8,293.5Z" fill="#fdd49e" fill-rule="evenodd"/>
<path d="M228.2,456.3L229.2,457.3L232.7,459.8L237.1,461.5L234.7,462.3L231.2,462.0L228.0,462.3L223.6,461.0L217.8,456.8L225.2,458.0L226.3,456.0Z" fill="#fdd49e" fill-rule="evenodd"/>
<path d="M170.8,262.4L173.4,260.3L176.9,259.0L182.5,259.2L188.4,262.9L192.0,264.7L194.9,266.8L186.7,267.6L187.4,265.5L185.4,263.4L179.9,262.1L177.9,260.5L173.1,262.6Z" fill="#fdd49e" fill-rule="evenodd"/>
<path d="M255.8,195.8L253.4,198.1L249.6,197.1L242.3,195.5L246.2,191.2L250.0,185.7L253.1,185.4L251.0,189.9L255.3,191.2Z" fill="#fdbb84" fill-rule="evenodd"/>
<path d="M113.2,193.5L109.6,192.2L107.1,187.4L112.4,189.4Z" fill="#fdbb84" fill-rule="evenodd"/>
<path d="M384.1,175.0L387.1,174.5L387.0,176.2L385.1,176.4Z" fill="#fdd49e" fill-rule="evenodd"/>
<path d="M381.8,175.7L383.8,175.9L383.3,176.9L382.1,176.7Z" fill="#fdd49e" fill-rule="evenodd"/>
<path d="M159.4,137.9L166.9,133.6L179.2,134.1L180.1,135.5L173.5,137.4L168.8,138.8L162.2,140.2Z" fill="#fdbb84" fill-rule="evenodd"/>
<path d="M168.8,138.8L174.5,136.5L181.1,136.9L185.8,136.5L188.6,137.4L190.5,135.5L196.1,134.6L195.2,136.5L191.4,138.8L193.3,141.6L195.2,142.6L189.5,144.5L180.1,144.9L173.5,144.9L168.8,143.5L171.6,141.6L169.8,140.2Z" fill="#fdbb84" fill-rule="evenodd"/>
<path d="M175.4,129.4L189.5,126.6L185.8,128.9L177.3,129.9Z" fill="#fdbb84" fill-rule="evenodd"/>
<path d="M181.1,131.3L197.1,128.9L200.8,130.8L187.6,132.7L182.0,132.2Z" fill="#fdbb84" fill-rule="evenodd"/>
<path d="M194.2,126.1L201.3,124.2L199.9,126.1Z" fill="#fdbb84" fill-rule="evenodd"/>
<path d="M198.9,136.9L206.5,134.1L208.4,136.0L202.7,138.8Z" fill="#fdbb84" fill-rule="evenodd"/>
<path d="M205.3,130.0L212.9,128.8L217.6,130.8L211.2,132.0Z" fill="#fdbb84" fill-rule="evenodd"/>
<path d="M210.2,134.6L218.7,134.1L215.9,136.9L212.1,137.9Z" fill="#fdbb84" fill-rule="evenodd"/>
<path d="M208.2,124.7L215.3,124.1L215.9,125.9L209.4,126.1Z" fill="#fdbb84" fill-rule="evenodd"/>
<path d="M217.6,124.7L222.4,124.9L221.8,126.5L218.2,126.5Z" fill="#fdbb84" fill-rule="evenodd"/>
<path d="M219.4,127.6L227.1,128.2L238.8,130.8L235.3,132.4L223.5,132.4L220.0,130.0Z" fill="#fdbb84" fill-rule="evenodd"/>
<path d="M224.7,121.8L235.3,118.8L252.9,117.4L277.6,117.6L268.2,120.6L256.5,123.5L251.8,125.3L243.5,128.2L228.2,128.8L225.3,125.3Z" fill="#fdbb84" fill-rule="evenodd"/>
<path d="M217.0,135.0L232.2,134.4L238.8,135.8L240.2,138.6L245.4,140.1L250.1,142.4L247.3,145.2L256.2,149.5L251.1,153.2L246.8,151.4L248.2,156.1L243.1,160.3L238.8,157.5L232.2,156.5L225.2,155.1L231.3,153.2L235.1,152.3L236.5,148.5L230.0,146.0L226.0,143.0L218.0,142.0L216.0,138.0Z" fill="#fdbb84" fill-rule="evenodd"/>
<path d="M209.5,154.0L215.0,152.0L219.5,155.5L213.0,157.0Z" fill="#fdbb84" fill-rule="evenodd"/>
<path d="M257.7,128.0L271.0,128.7L273.0,133.3L275.0,138.7L272.3,142.0L277.0,144.0L271.7,148.0L270.3,151.3L272.3,158.0L277.0,163.3L281.7,165.3L286.3,160.7L288.3,156.7L293.7,152.0L301.7,149.3L309.7,146.0L319.0,143.3L325.7,141.3L328.3,138.0L332.3,134.0L334.3,127.3L335.7,122.0L345.7,120.0L333.7,118.0L319.0,116.7L300.3,116.7L295.0,118.7L277.7,118.3L265.7,122.0L256.3,125.3Z" fill="#fff7ec" fill-rule="evenodd"/>
<path d="M446.8,137.9L449.9,131.8L456.0,129.5L466.7,127.9L465.9,129.5L457.5,131.0L452.9,134.8L456.8,140.2L451.4,140.9Z" fill="#fc8d59" fill-rule="evenodd"/>
<path d="M493.5,119.5L498.8,119.8L508.0,123.4L505.0,124.9L498.8,123.4Z" fill="#fc8d59" fill-rule="evenodd"/>
<path d="M509.5,123.4L517.2,124.1L520.2,125.6L512.6,125.6Z" fill="#fc8d59" fill-rule="evenodd"/>
<path d="M574.0,129.4L580.0,129.6L587.0,131.0L583.0,132.2L575.0,131.5Z" fill="#fc8d59" fill-rule="evenodd"/>
<path d="M588.8,130.6L596.2,131.4L594.0,132.2L589.0,131.8Z" fill="#fc8d59" fill-rule="evenodd"/>
<path d="M584.7,133.9L590.0,134.5L591.2,136.2L586.0,135.5Z" fill="#fc8d59" fill-rule="evenodd"/>
<path d="M426.0,121.0L431.0,120.3L436.0,121.0L432.0,122.0Z" fill="#fc8d59" fill-rule="evenodd"/>
<path d="M636.8,272.5L641.0,271.6L641.8,278.2L643.4,283.2L647.5,286.5L650.8,289.8L649.2,291.4L645.1,288.9L642.6,286.5L639.3,285.7L637.7,279.9Z" fill="#fc8d59" fill-rule="evenodd"/>
<path d="M642.6,289.8L645.9,290.6L645.1,293.9L643.4,293.1Z" fill="#fc8d59" fill-rule="evenodd"/>
<path d="M649.2,291.4L652.5,294.7L650.8,298.8L648.4,296.4Z" fill="#fc8d59" fill-rule="evenodd"/>
<path d="M643.4,298.0L647.5,297.2L648.4,300.5L645.1,301.3Z" fill="#fc8d59" fill-rule="evenodd"/>
<path d="M645.9,298.8L652.5,296.4L654.1,301.3L652.5,305.4L649.2,303.8L646.7,302.1Z" fill="#fc8d59" fill-rule="evenodd"/>
<path d="M632.7,298.0L637.7,290.6L636.8,292.2L633.5,297.2Z" fill="#fc8d59" fill-rule="evenodd"/>
<path d="M640.1,318.6L651.7,316.1L650.8,318.6L642.6,321.1L641.0,324.4L645.9,322.7L647.5,324.4L642.6,326.8L643.4,331.8L645.9,334.3L643.4,335.1L640.1,331.0L639.3,334.3L637.7,333.4L636.8,326.0L638.5,321.1Z" fill="#ef6548" fill-rule="evenodd"/>
<path d="M582.5,305.4L586.6,307.1L594.8,313.7L601.4,319.4L607.2,326.8L607.2,335.1L605.5,335.9L598.1,327.7L591.5,319.4L584.9,311.2Z" fill="#ef6548" fill-rule="evenodd"/>
<path d="M606.4,335.9L613.0,336.7L619.5,337.5L627.8,340.8L626.1,342.5L616.2,340.8L608.0,338.4Z" fill="#ef6548" fill-rule="evenodd"/>
<path d="M704.5,334.5L710.0,333.0L713.5,331.0L710.5,327.0L711.5,326.5L715.5,330.0L715.0,332.5L710.0,335.5L706.0,336.0Z" fill="#fdd49e" fill-rule="evenodd"/>
<path d="M719.0,333.0L721.0,335.0L722.0,338.0L720.0,337.5Z" fill="#fdd49e" fill-rule="evenodd"/>
<path d="M723.0,337.5L725.5,339.0L725.0,339.5L722.8,338.0Z" fill="#fff7ec" fill-rule="evenodd"/>
<path d="M727.5,339.5L733.0,341.5L732.5,342.2L727.3,340.2Z" fill="#fff7ec" fill-rule="evenodd"/>
<path d="M730.0,344.0L735.5,348.5L735.0,349.0L729.7,344.7Z" fill="#fff7ec" fill-rule="evenodd"/>
<path d="M743.5,358.0L745.0,359.5L745.5,363.0L744.3,362.5Z" fill="#fff7ec" fill-rule="evenodd"/>
<path d="M767.0,366.5L769.5,364.0L770.5,365.0L768.0,367.0Z" fill="#fff7ec" fill-rule="evenodd"/>
<path d="M734.5,372.5L736.0,372.3L740.0,377.5L739.0,378.2Z" fill="#fff7ec" fill-rule="evenodd"/>
<path d="M8.5,266.5L11.5,267.8L11.0,270.5L9.0,270.0Z" fill="#ef6548" fill-rule="evenodd"/>
<path d="M5.0,263.2L8.0,264.3L7.5,265.0L5.0,264.0Z" fill="#ef6548" fill-rule="evenodd"/>
<path d="M2.0,261.5L3.3,261.8L3.0,262.5L1.8,262.2Z" fill="#ef6548" fill-rule="evenodd"/>
<path d="M194.5,270.2L196.5,268.6L199.0,268.5L203.0,268.6L207.5,271.5L205.0,272.8L201.0,272.5L199.0,273.2L198.0,271.8L196.0,271.8L194.0,271.6Z" fill="#fdd49e" fill-rule="evenodd"/>
<path d="M185.0,271.8L188.0,271.4L190.0,272.6L187.0,273.4Z" fill="#fee8c8" fill-rule="evenodd"/>
<path d="M209.5,272.3L213.5,272.1L214.0,273.0L210.0,273.3Z" fill="#fee8c8" fill-rule="evenodd"/>
<path d="M186.5,249.5L188.5,249.8L190.5,251.5L189.0,251.2Z" fill="#fee8c8" fill-rule="evenodd"/>
<path d="M186.8,254.0L188.0,254.3L188.3,256.5L187.2,256.0Z" fill="#fee8c8" fill-rule="evenodd"/>
<path d="M221.8,291.2L224.5,291.0L224.2,292.8L222.0,292.6Z" fill="#fee8c8" fill-rule="evenodd"/>
<path d="M340.9,209.4L344.3,210.2L345.7,209.7L349.1,210.0L349.9,211.0L348.4,212.5L348.5,214.3L348.1,215.9L347.0,216.1L348.0,217.7L347.3,219.8L348.0,220.3L347.0,222.4L347.0,224.2L340.3,224.2Z" fill="#fdd49e" stroke="#8c8c8c" stroke-width="0.45" stroke-linejoin="round" clip-path="url(#cl-eurasia)"/>
<path d="M341.2,204.2L359.2,205.8L359.2,206.3L360.1,207.3L363.0,208.1L364.5,207.7L366.6,208.6L369.7,208.9L371.4,208.9L371.7,226.8L346.9,226.8L347.0,222.4L348.0,220.3L347.3,219.8L348.0,217.7L347.0,216.1L348.1,215.9L348.5,214.3L348.4,212.5L349.9,211.0L349.1,210.0L345.7,209.7L344.3,210.2L340.9,209.4Z" fill="#fdbb84" stroke="#8c8c8c" stroke-width="0.45" stroke-linejoin="round" clip-path="url(#cl-eurasia)"/>
<path d="M359.2,206.3L360.1,207.3L363.0,208.1L364.5,207.7L366.6,208.6L369.7,208.9L370.4,210.4L379.3,207.3L378.6,205.3L379.0,204.5L377.3,203.7L377.5,202.2L377.0,200.1L375.3,199.1L375.5,198.1L377.3,196.0L378.5,195.5L378.8,193.2L379.5,192.0L377.1,191.7L375.9,190.7L374.7,190.7L372.6,189.4L371.4,188.7L368.2,187.4L368.0,186.4L366.0,185.7L350.9,190.7L350.5,203.5L357.8,204.7Z" fill="#fdbb84" stroke="#8c8c8c" stroke-width="0.45" stroke-linejoin="round" clip-path="url(#cl-eurasia)"/>
<path d="M368.0,186.4L368.2,187.4L371.4,188.7L372.6,189.4L374.7,190.7L375.2,189.2L375.0,187.4L374.5,186.4L371.3,185.9L369.7,185.4L368.1,185.4Z" fill="#fdd49e" stroke="#8c8c8c" stroke-width="0.45" stroke-linejoin="round" clip-path="url(#cl-eurasia)"/>
<path d="M369.7,185.4L371.3,185.9L374.5,186.4L375.0,187.4L375.3,185.9L376.4,184.7L376.8,183.9L376.9,181.2L377.0,179.9L371.8,180.7L368.9,184.4Z" fill="#fdbb84" stroke="#8c8c8c" stroke-width="0.45" stroke-linejoin="round" clip-path="url(#cl-eurasia)"/>
<path d="M377.0,179.9L376.9,181.2L376.8,183.9L376.4,184.7L375.3,185.9L375.0,187.4L375.2,189.2L375.9,190.7L377.1,191.7L379.5,192.0L378.8,193.2L378.5,195.5L380.5,195.5L382.6,195.8L384.4,195.8L387.8,195.3L389.5,195.8L389.4,193.7L390.9,192.5L388.1,190.2L387.2,188.7L389.9,187.7L392.5,187.2L392.8,186.7L391.8,184.4L390.7,182.4L391.0,181.2L390.8,179.4L389.0,176.9L384.3,177.4L381.4,177.4L379.6,177.2L377.5,178.2Z" fill="#fc8d59" stroke="#8c8c8c" stroke-width="0.45" stroke-linejoin="round" clip-path="url(#cl-eurasia)"/>
<path d="M379.6,177.2L381.4,177.4L384.3,177.4L385.1,175.7L384.4,171.3L382.9,169.6L378.1,171.3L378.0,175.7Z" fill="#fdd49e" stroke="#8c8c8c" stroke-width="0.45" stroke-linejoin="round" clip-path="url(#cl-eurasia)"/>
<path d="M375.3,199.1L375.5,198.1L377.3,196.0L378.5,195.5L380.5,195.5L382.6,195.8L382.4,196.8L384.5,197.3L383.8,199.1L381.5,199.9L380.2,198.8L377.4,199.9L377.0,200.1Z" fill="#fee8c8" stroke="#8c8c8c" stroke-width="0.45" stroke-linejoin="round" clip-path="url(#cl-eurasia)"/>
<path d="M382.6,195.8L384.4,195.8L387.8,195.3L389.5,195.8L389.4,193.7L390.9,192.5L393.3,192.0L397.2,193.0L397.7,194.5L396.6,195.8L395.9,197.3L392.8,198.6L391.1,198.3L387.9,197.1L384.5,197.3L382.4,196.8Z" fill="#fdd49e" stroke="#8c8c8c" stroke-width="0.45" stroke-linejoin="round" clip-path="url(#cl-eurasia)"/>
<path d="M378.6,205.3L379.0,204.5L377.3,203.7L377.5,202.2L377.0,200.1L377.4,199.9L380.2,198.8L381.5,199.9L383.8,199.1L384.5,197.3L387.9,197.1L391.1,198.3L391.0,200.1L391.5,200.6L390.4,202.7L393.4,207.3L397.7,209.4L402.7,213.8L402.9,216.4L398.5,220.8L387.6,217.7L383.1,211.2L382.8,205.3L378.9,206.6Z" fill="#fc8d59" stroke="#8c8c8c" stroke-width="0.45" stroke-linejoin="round" clip-path="url(#cl-eurasia)"/>
<path d="M391.1,198.3L392.8,198.6L395.9,197.3L397.0,198.3L395.3,199.1L394.5,200.4L391.1,200.9L391.0,200.1Z" fill="#fee8c8" stroke="#8c8c8c" stroke-width="0.45" stroke-linejoin="round" clip-path="url(#cl-eurasia)"/>
<path d="M391.1,200.9L394.5,200.4L395.3,199.1L397.0,198.3L398.6,199.6L401.9,199.9L402.3,201.7L399.2,201.9L396.1,201.7L395.8,202.9L396.7,204.2L399.1,206.3L401.9,208.9L400.9,209.9L394.4,207.3L391.0,203.5L389.9,202.2Z" fill="#fee8c8" stroke="#8c8c8c" stroke-width="0.45" stroke-linejoin="round" clip-path="url(#cl-eurasia)"/>
<path d="M396.1,201.7L399.2,201.9L402.3,201.7L403.6,204.7L402.3,206.6L401.9,208.9L399.1,206.3L396.7,204.2L395.8,202.9Z" fill="#fee8c8" stroke="#8c8c8c" stroke-width="0.45" stroke-linejoin="round" clip-path="url(#cl-eurasia)"/>
<path d="M401.9,199.9L404.7,199.4L407.5,201.7L409.7,203.2L410.2,204.2L409.7,205.0L411.2,207.3L410.3,209.1L408.2,209.1L407.2,209.4L405.3,207.6L403.8,206.8L403.6,204.7L402.3,201.7Z" fill="#fdd49e" stroke="#8c8c8c" stroke-width="0.45" stroke-linejoin="round" clip-path="url(#cl-eurasia)"/>
<path d="M401.9,208.9L402.3,206.6L403.8,206.8L405.3,207.6L405.0,208.6L403.7,210.2L402.4,210.2Z" fill="#fff7ec" stroke="#8c8c8c" stroke-width="0.45" stroke-linejoin="round" clip-path="url(#cl-eurasia)"/>
<path d="M405.3,207.6L407.2,209.4L406.4,210.2L405.0,208.6Z" fill="#fff7ec" stroke="#8c8c8c" stroke-width="0.45" stroke-linejoin="round" clip-path="url(#cl-eurasia)"/>
<path d="M403.7,210.2L405.0,208.6L406.4,210.2L406.4,212.5L407.6,213.5L405.9,216.1L403.4,215.1L403.0,210.2Z" fill="#fee8c8" stroke="#8c8c8c" stroke-width="0.45" stroke-linejoin="round" clip-path="url(#cl-eurasia)"/>
<path d="M406.4,210.2L407.2,209.4L408.2,209.1L410.3,209.1L411.6,211.2L411.4,211.6L407.5,212.8L406.4,212.5Z" fill="#fff7ec" stroke="#8c8c8c" stroke-width="0.45" stroke-linejoin="round" clip-path="url(#cl-eurasia)"/>
<path d="M405.9,216.1L407.6,213.5L406.4,212.5L407.5,212.8L411.4,211.6L413.7,211.2L416.5,212.0L418.5,210.7L419.2,211.7L418.3,213.3L417.4,216.4L417.2,225.5L408.5,225.5L404.6,216.4Z" fill="#fdd49e" stroke="#8c8c8c" stroke-width="0.45" stroke-linejoin="round" clip-path="url(#cl-eurasia)"/>
<path d="M410.2,204.2L409.7,205.0L411.2,207.3L410.3,209.1L411.6,211.2L411.4,211.6L413.7,211.2L416.5,212.0L418.5,210.7L422.0,209.9L423.6,209.9L423.0,205.3L421.1,205.0L419.2,204.5L415.1,205.5Z" fill="#fee8c8" stroke="#8c8c8c" stroke-width="0.45" stroke-linejoin="round" clip-path="url(#cl-eurasia)"/>
<path d="M404.7,199.4L406.5,198.6L408.0,195.3L409.5,194.5L413.7,195.3L416.9,193.7L419.0,195.3L420.8,198.3L421.0,200.9L424.4,201.4L424.8,202.7L423.0,205.3L421.1,205.0L419.2,204.5L415.1,205.5L410.2,204.2L409.7,203.2L407.5,201.7Z" fill="#fdd49e" stroke="#8c8c8c" stroke-width="0.45" stroke-linejoin="round" clip-path="url(#cl-eurasia)"/>
<path d="M416.9,193.7L418.7,193.2L422.3,194.5L424.8,198.6L422.5,199.6L421.2,200.9L421.0,200.9L420.8,198.3L419.0,195.3Z" fill="#fee8c8" stroke="#8c8c8c" stroke-width="0.45" stroke-linejoin="round" clip-path="url(#cl-eurasia)"/>
<path d="M395.9,197.3L396.6,195.8L397.7,194.5L399.2,195.1L401.2,195.0L404.1,193.7L407.8,193.5L409.5,194.5L408.0,195.3L406.5,198.6L404.7,199.4L401.9,199.9L398.6,199.6L397.0,198.3Z" fill="#fdd49e" stroke="#8c8c8c" stroke-width="0.45" stroke-linejoin="round" clip-path="url(#cl-eurasia)"/>
<path d="M397.2,193.0L398.2,192.5L400.8,190.7L403.3,191.5L406.5,190.9L408.6,191.7L407.8,193.5L404.1,193.7L401.2,195.0L399.2,195.1L397.7,194.5Z" fill="#fee8c8" stroke="#8c8c8c" stroke-width="0.45" stroke-linejoin="round" clip-path="url(#cl-eurasia)"/>
<path d="M387.2,188.7L389.9,187.7L392.5,187.2L392.8,186.7L395.5,187.7L396.8,188.4L399.1,189.4L400.8,190.7L398.2,192.5L397.2,193.0L393.3,192.0L390.9,192.5L388.1,190.2Z" fill="#fdd49e" stroke="#8c8c8c" stroke-width="0.45" stroke-linejoin="round" clip-path="url(#cl-eurasia)"/>
<path d="M390.8,179.7L391.0,181.2L390.7,182.4L391.8,184.4L392.8,186.7L395.5,187.7L396.8,188.4L399.1,189.4L400.8,190.7L403.3,191.5L406.5,190.9L408.6,191.7L411.0,188.4L409.8,185.7L409.2,182.9L409.8,181.7L408.7,179.7L407.2,178.4L401.0,178.3L398.7,176.9L391.1,178.2Z" fill="#fdd49e" stroke="#8c8c8c" stroke-width="0.45" stroke-linejoin="round" clip-path="url(#cl-eurasia)"/>
<path d="M401.0,178.3L407.2,178.4L406.6,176.7L404.0,176.2L401.4,176.9Z" fill="#fc8d59" stroke="#8c8c8c" stroke-width="0.45" stroke-linejoin="round" clip-path="url(#cl-eurasia)"/>
<path d="M403.2,175.0L404.0,176.2L406.6,176.7L407.2,178.4L408.7,179.7L410.7,179.7L413.1,178.9L412.5,177.4L414.6,176.2L413.8,175.2L410.7,174.0L404.9,173.5L402.2,174.2Z" fill="#fff7ec" stroke="#8c8c8c" stroke-width="0.45" stroke-linejoin="round" clip-path="url(#cl-eurasia)"/>
<path d="M402.2,174.2L404.9,173.5L410.7,174.0L413.8,175.2L416.8,174.0L415.4,171.3L414.8,170.6L411.9,170.1L410.5,169.4L408.7,169.9L406.2,169.6L401.7,170.8Z" fill="#fff7ec" stroke="#8c8c8c" stroke-width="0.45" stroke-linejoin="round" clip-path="url(#cl-eurasia)"/>
<path d="M408.7,169.9L410.5,169.4L411.9,170.1L414.8,170.6L414.8,167.4L414.9,166.0L411.0,164.7L403.8,166.4L406.2,169.6Z" fill="#fff7ec" stroke="#8c8c8c" stroke-width="0.45" stroke-linejoin="round" clip-path="url(#cl-eurasia)"/>
<path d="M409.2,182.9L409.8,185.7L410.5,185.4L413.4,184.7L417.5,185.4L419.4,185.4L423.5,186.2L425.1,184.2L427.5,183.9L425.3,181.9L426.4,180.4L424.9,179.9L422.4,176.9L422.3,175.4L416.8,174.0L413.8,175.2L414.6,176.2L412.5,177.4L413.1,178.9L410.7,179.7L408.7,179.7L409.8,181.7Z" fill="#fee8c8" stroke="#8c8c8c" stroke-width="0.45" stroke-linejoin="round" clip-path="url(#cl-eurasia)"/>
<path d="M407.8,193.5L408.6,191.7L411.0,188.4L409.8,185.7L410.5,185.4L413.4,184.7L417.5,185.4L419.4,185.4L423.5,186.2L425.1,184.2L427.5,183.9L431.0,184.9L432.1,186.4L433.6,187.9L436.6,188.7L439.6,189.4L443.4,190.4L444.0,192.2L443.7,195.0L441.0,195.8L441.0,196.8L438.6,201.1L438.6,202.4L431.7,204.7L425.0,201.4L424.4,201.4L421.0,200.9L421.2,200.9L422.5,199.6L424.8,198.6L422.3,194.5L418.7,193.2L416.9,193.7L413.7,195.3L409.5,194.5Z" fill="#fdd49e" stroke="#8c8c8c" stroke-width="0.45" stroke-linejoin="round" clip-path="url(#cl-eurasia)"/>
<path d="M398.9,164.0L398.7,157.2L404.2,152.6L405.1,151.2L403.9,149.6L403.6,146.5L398.2,143.8L400.7,144.7L402.7,144.5L406.1,144.0L406.3,142.5L408.9,141.6L411.5,143.8L411.8,146.1L414.1,146.9L413.0,148.7L415.4,151.4L415.2,153.5L417.0,154.9L416.4,157.0L419.5,157.9L415.9,161.9L414.0,163.6L412.0,165.2L404.7,166.0Z" fill="#fee8c8" stroke="#8c8c8c" stroke-width="0.45" stroke-linejoin="round" clip-path="url(#cl-eurasia)"/>
<path d="M405.1,151.2L403.9,149.6L403.6,146.5L398.2,143.8L396.6,144.0L393.4,145.2L391.2,147.4L388.1,150.5L386.8,153.9L384.3,156.1L384.8,157.7L384.9,161.7L385.8,162.4L384.2,165.0L383.8,166.9L384.4,171.3L386.1,176.4L390.9,176.2L394.5,174.0L399.6,169.6L398.9,164.0L398.7,157.2L404.2,152.6Z" fill="#fdd49e" stroke="#8c8c8c" stroke-width="0.45" stroke-linejoin="round" clip-path="url(#cl-eurasia)"/>
<path d="M383.8,166.9L384.2,165.0L385.8,162.4L384.9,161.7L384.8,157.7L384.3,156.1L386.8,153.9L388.1,150.5L391.2,147.4L393.4,145.2L396.6,144.0L398.2,143.8L400.7,144.7L402.7,144.5L406.1,144.0L406.3,142.5L408.9,141.6L411.5,143.8L414.2,142.2L414.3,138.6L387.6,139.7L368.5,162.4L372.4,170.8L380.0,170.8L383.6,168.4Z" fill="#fdd49e" stroke="#8c8c8c" stroke-width="0.45" stroke-linejoin="round" clip-path="url(#cl-eurasia)"/>
<path d="M418.3,213.3L419.2,211.7L418.5,210.7L422.0,209.9L426.0,208.6L450.8,211.0L450.6,211.2L452.7,211.2L455.0,212.2L456.0,214.8L458.5,215.9L457.8,216.6L458.0,220.3L458.5,222.1L459.6,222.4L454.2,222.6L451.4,222.6L445.1,223.4L442.1,223.4L441.5,225.5L440.9,225.8L440.0,225.8L428.2,226.8L419.0,221.6L417.9,214.6Z" fill="#fc8d59" stroke="#8c8c8c" stroke-width="0.45" stroke-linejoin="round" clip-path="url(#cl-eurasia)"/>
<path d="M446.4,206.3L450.8,206.8L454.9,208.1L458.9,208.6L461.4,210.4L458.1,211.7L455.0,212.2L452.7,211.2L450.6,211.2L448.0,208.6Z" fill="#fee8c8" stroke="#8c8c8c" stroke-width="0.45" stroke-linejoin="round" clip-path="url(#cl-eurasia)"/>
<path d="M455.0,212.2L458.1,211.7L459.6,213.8L461.2,216.4L462.5,218.0L458.5,215.9L456.0,214.8Z" fill="#fee8c8" stroke="#8c8c8c" stroke-width="0.45" stroke-linejoin="round" clip-path="url(#cl-eurasia)"/>
<path d="M458.1,211.7L461.4,210.4L464.1,212.0L465.4,210.4L467.8,212.5L470.8,213.8L469.1,219.0L467.9,219.3L465.7,218.0L462.5,218.0L461.2,216.4L459.6,213.8Z" fill="#fee8c8" stroke="#8c8c8c" stroke-width="0.45" stroke-linejoin="round" clip-path="url(#cl-eurasia)"/>
<path d="M440.9,225.8L441.5,225.5L442.1,223.4L445.1,223.4L451.4,222.6L454.2,222.6L452.4,224.5L452.5,229.7L448.0,232.3L443.9,235.2L441.4,234.1L441.6,232.3L442.9,230.2L442.1,228.9L441.3,228.9L440.4,228.9L440.0,225.8Z" fill="#fdd49e" stroke="#8c8c8c" stroke-width="0.45" stroke-linejoin="round" clip-path="url(#cl-eurasia)"/>
<path d="M440.0,233.1L441.2,232.6L441.6,232.3L442.9,230.2L442.1,228.9L441.3,228.9L439.4,229.4L439.5,233.1Z" fill="#fee8c8" stroke="#8c8c8c" stroke-width="0.45" stroke-linejoin="round" clip-path="url(#cl-eurasia)"/>
<path d="M438.5,237.8L440.6,242.4L441.0,238.8L441.3,237.3L441.2,234.1L441.2,232.6L440.0,233.1L438.7,233.3L438.0,237.5Z" fill="#fee8c8" stroke="#8c8c8c" stroke-width="0.45" stroke-linejoin="round" clip-path="url(#cl-eurasia)"/>
<path d="M440.6,242.4L443.0,243.3L444.1,242.5L446.1,240.4L446.8,237.3L449.2,235.4L448.0,232.3L443.9,235.2L441.2,234.1L441.3,237.3L441.0,238.8Z" fill="#fee8c8" stroke="#8c8c8c" stroke-width="0.45" stroke-linejoin="round" clip-path="url(#cl-eurasia)"/>
<path d="M448.0,232.3L452.5,229.7L452.4,224.5L454.2,222.6L459.6,222.4L461.7,225.8L463.2,228.1L462.3,229.4L465.0,233.3L467.4,234.6L469.1,238.6L470.8,241.4L468.7,240.9L467.5,243.8L466.4,243.5L462.3,243.3L455.8,238.3L451.1,236.2L449.2,235.4Z" fill="#fdd49e" stroke="#8c8c8c" stroke-width="0.45" stroke-linejoin="round" clip-path="url(#cl-eurasia)"/>
<path d="M468.7,240.9L470.8,241.4L471.7,245.1L469.2,245.1L466.4,243.5L467.5,243.8Z" fill="#fff7ec" stroke="#8c8c8c" stroke-width="0.45" stroke-linejoin="round" clip-path="url(#cl-eurasia)"/>
<path d="M443.0,243.3L444.1,242.5L446.1,240.4L446.8,237.3L449.2,235.4L451.1,236.2L455.8,238.3L462.3,243.3L466.4,243.5L469.2,245.1L471.7,245.1L476.1,250.3L477.2,255.0L479.2,256.3L480.3,259.5L487.2,260.3L488.7,262.1L487.8,267.3L481.2,269.9L474.0,272.0L469.0,274.4L464.4,274.1L461.6,273.9L461.1,275.9L460.7,276.7L458.9,277.8L450.0,262.1L439.9,246.4L440.6,242.4Z" fill="#fee8c8" stroke="#8c8c8c" stroke-width="0.45" stroke-linejoin="round" clip-path="url(#cl-eurasia)"/>
<path d="M477.0,254.8L479.2,256.3L479.4,250.3L476.7,250.3Z" fill="#fee8c8" stroke="#8c8c8c" stroke-width="0.45" stroke-linejoin="round" clip-path="url(#cl-eurasia)"/>
<path d="M479.2,256.3L480.3,259.5L487.2,260.3L488.7,262.1L489.1,256.9L489.8,254.5L489.1,250.6L484.0,251.6L478.8,252.9Z" fill="#fff7ec" stroke="#8c8c8c" stroke-width="0.45" stroke-linejoin="round" clip-path="url(#cl-eurasia)"/>
<path d="M489.1,256.9L488.7,262.1L487.8,267.3L481.2,269.9L484.1,276.1L486.5,280.4L500.9,262.1L492.3,254.8L489.8,254.5Z" fill="#fff7ec" stroke="#8c8c8c" stroke-width="0.45" stroke-linejoin="round" clip-path="url(#cl-eurasia)"/>
<path d="M460.7,276.7L461.1,275.9L461.6,273.9L464.4,274.1L469.0,274.4L474.0,272.0L481.2,269.9L484.1,276.1L484.2,280.4L461.7,288.2L459.7,279.1Z" fill="#fdd49e" stroke="#8c8c8c" stroke-width="0.45" stroke-linejoin="round" clip-path="url(#cl-eurasia)"/>
<path d="M458.5,215.9L462.5,218.0L465.7,218.0L467.9,219.3L470.1,218.7L477.9,220.3L479.2,222.1L482.0,220.0L486.0,219.8L490.7,221.6L493.6,223.9L495.3,223.9L495.9,226.5L495.7,232.0L497.3,237.3L499.1,237.5L498.1,241.4L501.8,242.8L502.9,245.9L501.2,249.0L504.4,250.1L501.4,253.7L497.9,254.8L492.2,253.7L488.7,249.8L482.8,250.9L474.3,245.1L470.8,241.4L469.1,238.6L467.4,234.6L465.0,233.3L462.3,229.4L463.2,228.1L461.7,225.8L459.6,222.4L458.5,222.1L458.0,220.3L457.8,216.6Z" fill="#fdbb84" stroke="#8c8c8c" stroke-width="0.45" stroke-linejoin="round" clip-path="url(#cl-eurasia)"/>
<path d="M473.5,209.9L474.5,209.7L477.0,209.4L479.1,211.2L481.2,211.7L483.5,211.7L485.9,208.1L489.2,209.4L490.1,212.0L494.0,212.2L495.8,215.1L498.5,216.4L500.3,217.7L506.1,220.3L506.3,221.9L504.3,221.6L502.6,224.7L498.9,227.3L495.9,226.5L495.3,223.9L493.6,223.9L490.7,221.6L486.0,219.8L482.0,220.0L479.2,222.1L475.8,220.3Z" fill="#fff7ec" stroke="#8c8c8c" stroke-width="0.45" stroke-linejoin="round" clip-path="url(#cl-eurasia)"/>
<path d="M481.2,211.7L483.5,211.7L485.9,208.1L489.2,209.4L490.1,212.0L494.0,212.2L495.8,215.1L498.5,216.4L500.3,217.7L506.1,220.3L509.2,222.4L509.8,219.8L507.4,216.1L509.8,214.8L513.3,214.6L515.0,214.6L517.9,213.0L514.7,211.5L511.8,211.2L509.0,211.5L507.0,212.5L504.1,212.0L501.3,207.6L492.4,206.0L483.6,200.6L478.9,202.2L481.4,211.7Z" fill="#fdd49e" stroke="#8c8c8c" stroke-width="0.45" stroke-linejoin="round" clip-path="url(#cl-eurasia)"/>
<path d="M463.6,198.8L462.1,196.0L457.4,193.5L457.7,188.9L460.2,187.9L463.5,185.2L466.4,184.9L474.2,187.9L479.5,186.7L485.4,187.4L481.5,184.4L482.5,181.9L482.0,179.4L489.4,178.4L495.6,175.9L500.9,179.2L505.9,179.4L512.1,178.7L522.4,187.4L529.1,186.9L533.3,189.2L539.1,191.7L536.7,194.5L532.4,196.6L532.8,200.9L528.6,202.2L531.7,209.4L529.0,207.8L517.7,206.6L512.2,209.1L511.8,211.2L509.0,211.5L507.0,212.5L504.1,212.0L501.3,207.6L492.4,206.0L483.6,200.6L478.9,202.2L481.4,211.7L479.1,211.2L477.0,209.4L474.5,209.7L470.8,207.3L465.5,202.2Z" fill="#fdbb84" stroke="#8c8c8c" stroke-width="0.45" stroke-linejoin="round" clip-path="url(#cl-eurasia)"/>
<path d="M511.8,211.2L512.2,209.1L517.7,206.6L529.0,207.8L531.7,209.4L528.1,212.5L525.5,214.1L520.9,216.4L519.9,216.6L512.3,216.1L510.5,215.1L513.3,214.6L515.0,214.6L517.9,213.0L514.7,211.5Z" fill="#fee8c8" stroke="#8c8c8c" stroke-width="0.45" stroke-linejoin="round" clip-path="url(#cl-eurasia)"/>
<path d="M509.2,222.4L509.8,219.8L507.4,216.1L509.8,214.8L513.3,214.6L510.5,215.1L512.3,216.1L519.9,216.6L524.4,221.9L522.1,222.9L517.5,223.7L514.8,221.6L512.6,221.3L510.4,222.9Z" fill="#fee8c8" stroke="#8c8c8c" stroke-width="0.45" stroke-linejoin="round" clip-path="url(#cl-eurasia)"/>
<path d="M495.9,226.5L498.9,227.3L502.6,224.7L504.3,221.6L506.3,221.9L509.2,222.4L510.4,222.9L512.6,221.3L514.8,221.6L517.5,223.7L522.1,222.9L524.4,221.9L517.7,223.4L517.4,225.5L518.7,228.1L518.2,230.7L515.0,231.0L515.5,233.3L515.2,237.3L512.9,237.0L510.2,239.9L510.1,241.4L505.2,242.8L501.8,242.8L498.1,241.4L499.1,237.5L497.3,237.3L495.7,232.0Z" fill="#fdd49e" stroke="#8c8c8c" stroke-width="0.45" stroke-linejoin="round" clip-path="url(#cl-eurasia)"/>
<path d="M501.4,253.7L504.4,250.1L501.2,249.0L502.9,245.9L501.8,242.8L505.2,242.8L510.1,241.4L510.2,239.9L512.9,237.0L515.2,237.3L515.5,233.3L515.0,231.0L518.2,230.7L518.7,228.1L517.4,225.5L517.7,223.4L523.8,222.9L526.9,223.9L532.0,226.8L527.7,229.4L524.4,229.4L524.8,232.8L527.2,234.6L528.0,235.4L527.6,238.6L526.9,241.2L525.8,241.4L523.5,246.4L520.3,246.9L518.5,249.5L520.1,252.9L522.8,255.8L517.9,256.3L516.7,257.9L514.0,258.2L501.6,255.6Z" fill="#ef6548" stroke="#8c8c8c" stroke-width="0.45" stroke-linejoin="round" clip-path="url(#cl-eurasia)"/>
<path d="M519.9,216.6L520.9,216.4L525.5,214.1L528.1,212.5L531.7,209.4L528.6,202.2L532.8,200.9L532.4,196.6L536.7,194.5L539.1,191.7L541.2,193.2L546.0,195.0L549.6,198.3L550.2,200.9L555.5,202.2L561.5,204.0L565.2,208.1L572.8,208.4L584.4,211.0L588.4,208.9L594.4,207.8L596.4,205.5L595.0,203.7L598.2,202.7L602.4,200.9L603.6,198.1L608.6,197.8L602.1,195.5L597.6,194.5L597.3,189.9L600.1,190.7L602.0,189.2L600.8,185.7L600.4,182.9L604.0,180.7L610.2,182.4L619.2,189.9L626.5,192.2L629.6,195.3L632.9,194.3L636.0,193.7L636.9,197.1L638.4,201.9L634.4,202.4L637.4,206.8L637.4,208.9L635.5,208.9L632.6,210.2L630.4,211.7L627.7,215.3L626.7,219.0L630.7,225.5L638.0,241.2L636.8,252.9L632.0,262.1L623.2,263.4L616.2,268.6L607.6,264.7L607.4,263.4L603.8,260.0L600.7,258.7L597.6,260.8L593.8,261.0L592.7,260.8L592.0,263.7L589.4,263.1L586.7,261.8L587.5,259.5L585.2,256.6L582.6,256.9L582.6,253.5L583.8,249.5L582.9,247.5L579.8,245.9L576.2,242.8L572.0,243.8L567.3,246.9L562.5,246.1L561.4,248.2L559.5,246.7L554.7,246.4L551.0,244.6L544.8,241.2L542.5,240.7L537.6,238.6L536.4,234.6L537.3,232.8L537.5,227.6L535.7,226.5L532.0,226.8L526.9,223.9L523.8,222.9L524.4,221.9Z" fill="#990000" stroke="#8c8c8c" stroke-width="0.45" stroke-linejoin="round" clip-path="url(#cl-eurasia)"/>
<path d="M516.7,257.9L517.9,256.3L522.8,255.8L520.1,252.9L518.5,249.5L520.3,246.9L523.5,246.4L525.8,241.4L526.9,241.2L527.6,238.6L528.0,235.4L527.2,234.6L524.8,232.8L524.4,229.4L527.7,229.4L532.0,226.8L535.7,226.5L537.5,227.6L537.3,232.8L536.4,234.6L537.6,238.6L542.5,240.7L541.0,244.1L542.2,244.8L544.7,246.4L548.4,248.0L553.2,249.8L556.6,250.3L560.3,250.6L560.3,249.8L559.5,246.7L561.4,248.2L562.1,249.5L568.8,249.5L568.8,248.5L567.3,246.9L572.0,243.8L576.2,242.8L579.8,245.9L577.4,248.2L575.7,250.3L575.4,254.3L574.9,257.1L573.5,259.5L572.4,262.4L571.4,260.5L571.0,258.2L569.7,259.7L568.5,257.9L569.6,256.3L570.5,254.5L567.4,253.7L564.7,253.5L564.3,251.6L561.2,250.6L560.6,252.4L561.8,253.7L560.9,255.3L563.2,257.1L562.9,259.5L564.1,263.1L564.9,267.3L547.5,306.5L538.2,303.9L527.1,275.2L516.7,262.1Z" fill="#990000" stroke="#8c8c8c" stroke-width="0.45" stroke-linejoin="round" clip-path="url(#cl-eurasia)"/>
<path d="M541.0,244.1L542.5,240.7L544.8,241.2L551.0,244.6L554.7,246.4L559.5,246.7L560.3,249.8L560.3,250.6L556.6,250.3L553.2,249.8L548.4,248.0L544.7,246.4L542.2,244.8Z" fill="#fdbb84" stroke="#8c8c8c" stroke-width="0.45" stroke-linejoin="round" clip-path="url(#cl-eurasia)"/>
<path d="M561.4,248.2L562.5,246.1L567.3,246.9L568.8,248.5L568.8,249.5L562.1,249.5Z" fill="#fff7ec" stroke="#8c8c8c" stroke-width="0.45" stroke-linejoin="round" clip-path="url(#cl-eurasia)"/>
<path d="M564.1,263.1L564.6,264.7L571.5,266.0L571.9,265.2L572.4,262.4L571.4,260.5L571.0,258.2L569.7,259.7L568.5,257.9L569.6,256.3L570.5,254.5L567.4,253.7L564.7,253.5L564.3,251.6L561.2,250.6L560.6,252.4L561.8,253.7L560.9,255.3L563.2,257.1L562.9,259.5Z" fill="#ef6548" stroke="#8c8c8c" stroke-width="0.45" stroke-linejoin="round" clip-path="url(#cl-eurasia)"/>
<path d="M571.9,265.2L572.4,262.4L573.5,259.5L574.9,257.1L575.4,254.3L575.7,250.3L577.4,248.2L579.8,245.9L582.9,247.5L583.8,249.5L582.6,253.5L582.6,256.9L585.2,256.6L587.5,259.5L586.7,261.8L589.4,263.1L589.9,266.3L585.9,268.1L585.4,273.1L587.9,277.8L589.3,281.7L591.3,285.6L590.7,289.5L589.4,292.7L587.2,293.5L584.5,277.8L576.7,279.1L574.2,268.6Z" fill="#fc8d59" stroke="#8c8c8c" stroke-width="0.45" stroke-linejoin="round" clip-path="url(#cl-eurasia)"/>
<path d="M589.9,266.3L590.9,266.8L592.3,268.6L593.0,273.1L596.6,272.8L599.8,272.8L602.1,276.5L604.2,278.6L603.8,282.2L601.0,282.2L597.7,283.5L598.0,286.7L599.2,289.3L597.2,289.5L595.0,290.8L595.3,294.8L598.3,303.4L595.9,304.7L593.9,302.9L588.8,301.3L587.2,293.5L589.4,292.7L590.7,289.5L591.3,285.6L589.3,281.7L587.9,277.8L585.4,273.1L585.9,268.1Z" fill="#fdbb84" stroke="#8c8c8c" stroke-width="0.45" stroke-linejoin="round" clip-path="url(#cl-eurasia)"/>
<path d="M589.9,266.3L592.0,263.7L592.7,260.8L593.8,261.0L596.3,264.7L599.4,266.0L600.0,268.1L602.1,270.5L605.9,274.1L608.1,277.3L609.0,279.9L608.9,281.4L605.6,282.0L604.8,283.0L603.8,282.2L604.2,278.6L602.1,276.5L599.8,272.8L596.6,272.8L593.0,273.1L592.3,268.6L590.9,266.8Z" fill="#fee8c8" stroke="#8c8c8c" stroke-width="0.45" stroke-linejoin="round" clip-path="url(#cl-eurasia)"/>
<path d="M599.2,289.3L598.0,286.7L597.7,283.5L601.0,282.2L603.8,282.2L604.8,283.0L605.6,282.0L608.9,281.4L609.6,287.4L606.3,289.5L604.2,291.1L603.2,292.4L601.0,293.5L598.4,290.8Z" fill="#fdd49e" stroke="#8c8c8c" stroke-width="0.45" stroke-linejoin="round" clip-path="url(#cl-eurasia)"/>
<path d="M607.4,263.4L603.8,260.0L600.7,258.7L597.6,260.8L593.8,261.0L596.3,264.7L599.4,266.0L600.0,268.1L602.1,270.5L605.9,274.1L608.1,277.3L609.0,279.9L608.9,281.4L609.6,287.4L606.3,289.5L604.2,291.1L603.2,292.4L601.1,296.1L605.9,298.7L615.7,290.8L615.3,277.8L605.8,267.3L608.6,264.2Z" fill="#fc8d59" stroke="#8c8c8c" stroke-width="0.45" stroke-linejoin="round" clip-path="url(#cl-eurasia)"/>
<path d="M593.9,302.9L595.9,304.7L598.3,303.4L600.4,302.6L605.0,314.4L604.3,316.5L601.5,316.5L593.8,311.8L593.0,303.4Z" fill="#fdd49e" stroke="#8c8c8c" stroke-width="0.45" stroke-linejoin="round" clip-path="url(#cl-eurasia)"/>
<path d="M539.9,191.5L542.8,188.2L546.5,187.7L553.5,189.4L556.5,184.4L558.6,184.7L565.2,185.7L570.0,188.7L576.0,188.7L580.1,190.4L584.7,191.5L589.3,190.7L592.2,188.9L597.3,189.9L597.6,194.5L602.1,195.5L608.6,197.8L603.6,198.1L602.4,200.9L598.2,202.7L595.0,203.7L596.4,205.5L594.4,207.8L588.4,208.9L584.4,211.0L572.8,208.4L565.2,208.1L561.5,204.0L555.5,202.2L550.2,200.9L549.6,198.3L546.0,195.0L541.2,193.2L539.1,191.7Z" fill="#fff7ec" stroke="#8c8c8c" stroke-width="0.45" stroke-linejoin="round" clip-path="url(#cl-eurasia)"/>
<path d="M627.7,215.3L630.4,211.7L632.6,210.2L635.5,208.9L637.4,208.9L638.2,209.9L640.3,212.5L639.5,219.0L638.1,218.7L635.6,219.8L635.3,220.6L633.1,221.3L629.4,220.3L626.5,216.4Z" fill="#fdbb84" stroke="#8c8c8c" stroke-width="0.45" stroke-linejoin="round" clip-path="url(#cl-eurasia)"/>
<path d="M635.3,220.6L635.6,219.8L638.1,218.7L642.3,220.3L647.1,230.7L637.8,232.0L633.1,221.3Z" fill="#fdbb84" stroke="#8c8c8c" stroke-width="0.45" stroke-linejoin="round" clip-path="url(#cl-eurasia)"/>
<path d="M360.4,225.8L358.2,227.9L359.1,229.9L359.3,233.3L356.6,235.4L354.8,238.8L350.8,242.2L343.6,244.6L343.6,247.2L333.5,247.2L331.8,246.4L341.0,236.0L345.6,228.1L350.0,225.5Z" fill="#fdd49e" stroke="#8c8c8c" stroke-width="0.45" stroke-linejoin="round" clip-path="url(#cl-africa)"/>
<path d="M360.4,225.8L358.2,227.9L359.1,229.9L359.3,233.3L356.6,235.4L354.8,238.8L350.8,242.2L343.6,244.6L343.6,248.2L352.2,254.3L365.7,264.7L370.3,269.9L372.5,269.4L376.2,268.6L380.0,265.0L389.8,258.2L385.5,255.6L384.3,250.3L384.8,242.8L384.1,240.7L382.8,236.0L380.5,232.0L381.1,229.2L381.2,225.5L381.6,223.2L380.2,220.3L360.8,224.2Z" fill="#fdd49e" stroke="#8c8c8c" stroke-width="0.45" stroke-linejoin="round" clip-path="url(#cl-africa)"/>
<path d="M381.6,223.2L381.2,225.5L381.1,229.2L380.5,232.0L382.8,236.0L384.1,240.7L385.7,236.7L388.2,232.8L389.2,230.7L387.8,221.6L383.4,220.8Z" fill="#fdd49e" stroke="#8c8c8c" stroke-width="0.45" stroke-linejoin="round" clip-path="url(#cl-africa)"/>
<path d="M388.2,232.8L385.7,236.7L384.1,240.7L384.8,242.8L384.3,250.3L385.5,255.6L389.8,258.2L393.5,259.5L396.8,259.5L398.8,258.4L417.5,268.6L417.5,267.3L419.7,267.3L419.5,262.1L418.5,242.5L418.6,237.0L417.8,233.3L389.2,230.7Z" fill="#fff7ec" stroke="#8c8c8c" stroke-width="0.45" stroke-linejoin="round" clip-path="url(#cl-africa)"/>
<path d="M419.5,262.1L446.4,262.1L447.7,260.8L440.7,242.5L440.5,242.5L438.5,237.8L435.7,236.0L418.5,236.0L418.6,237.0L418.5,242.5Z" fill="#fdbb84" stroke="#8c8c8c" stroke-width="0.45" stroke-linejoin="round" clip-path="url(#cl-africa)"/>
<path d="M343.6,247.2L343.6,248.2L343.5,251.6L336.1,251.6L335.9,258.3L333.4,260.0L333.6,263.8L324.5,263.8L322.2,264.7L322.7,251.6L332.9,245.1L333.5,247.2Z" fill="url(#hatch)" stroke="#8c8c8c" stroke-width="0.45" stroke-linejoin="round" clip-path="url(#cl-africa)"/>
<path d="M324.5,263.8L333.6,263.8L333.4,260.0L335.9,258.3L336.1,251.6L343.5,251.6L343.6,248.2L352.2,254.3L348.5,254.4L349.5,265.6L350.5,276.9L342.4,279.1L337.0,278.8L335.1,281.2L331.1,276.2L325.3,277.3L321.9,277.8L322.2,264.7Z" fill="#fff7ec" stroke="#8c8c8c" stroke-width="0.45" stroke-linejoin="round" clip-path="url(#cl-africa)"/>
<path d="M352.2,254.3L365.7,264.7L370.3,269.9L372.5,269.4L372.8,275.7L371.2,278.8L366.0,279.6L363.5,280.7L361.9,280.1L360.5,280.7L358.4,282.5L356.1,284.1L352.9,286.9L350.6,290.3L350.6,292.4L348.5,292.7L345.8,292.9L344.6,292.9L343.9,290.8L343.5,289.5L341.9,287.4L338.2,288.2L336.9,287.2L335.1,281.2L337.0,278.8L342.4,279.1L350.5,276.9L349.5,265.6L348.5,254.4Z" fill="#fdd49e" stroke="#8c8c8c" stroke-width="0.45" stroke-linejoin="round" clip-path="url(#cl-africa)"/>
<path d="M389.8,258.2L393.5,259.5L396.8,259.5L397.4,264.7L399.0,266.3L398.3,275.4L394.1,283.8L391.2,285.4L385.9,284.8L381.3,285.9L376.7,284.1L372.6,284.3L371.3,289.0L368.5,288.5L367.6,286.4L365.3,285.6L363.9,283.0L363.5,280.7L366.0,279.6L371.2,278.8L372.8,275.7L372.5,269.4L376.2,268.6L380.0,265.0Z" fill="#fdd49e" stroke="#8c8c8c" stroke-width="0.45" stroke-linejoin="round" clip-path="url(#cl-africa)"/>
<path d="M398.8,258.4L417.5,268.6L417.8,278.6L414.5,282.7L413.4,285.9L415.3,289.3L415.6,291.1L412.9,291.9L411.3,294.8L406.9,296.1L406.5,297.1L402.1,299.2L398.7,300.0L396.4,298.7L395.7,293.7L397.5,293.5L397.7,289.5L396.5,287.7L396.2,285.6L394.1,283.8L398.3,275.4L399.0,266.3L397.4,264.7L396.8,259.5Z" fill="#fee8c8" stroke="#8c8c8c" stroke-width="0.45" stroke-linejoin="round" clip-path="url(#cl-africa)"/>
<path d="M417.5,267.3L417.5,268.6L417.8,278.6L414.5,282.7L413.4,285.9L415.3,289.3L415.6,291.1L418.7,296.9L420.5,292.7L424.0,294.8L426.3,296.1L428.6,295.3L432.0,292.9L435.4,294.0L438.9,293.5L439.2,288.2L441.3,291.6L441.8,291.9L443.3,286.9L446.3,282.2L447.3,275.2L450.6,272.5L451.6,269.9L447.7,260.8L446.4,262.1L419.5,262.1L419.7,267.3Z" fill="#fdd49e" stroke="#8c8c8c" stroke-width="0.45" stroke-linejoin="round" clip-path="url(#cl-africa)"/>
<path d="M418.7,296.9L420.5,292.7L424.0,294.8L426.3,296.1L428.6,295.3L432.0,292.9L435.4,294.0L438.9,293.5L439.2,288.2L441.3,291.6L441.4,294.8L441.0,297.6L439.0,299.7L443.0,302.3L445.8,307.6L442.4,307.6L441.2,310.2L439.1,309.4L434.5,309.9L434.1,310.5L431.1,307.6L427.6,307.6L426.0,306.0L421.4,306.5L418.3,302.6Z" fill="#fee8c8" stroke="#8c8c8c" stroke-width="0.45" stroke-linejoin="round" clip-path="url(#cl-africa)"/>
<path d="M325.3,277.3L331.1,276.2L335.1,281.2L336.9,287.2L334.6,287.2L331.6,286.4L328.2,286.4L324.7,287.2L321.7,288.2L321.9,277.8Z" fill="#fee8c8" stroke="#8c8c8c" stroke-width="0.45" stroke-linejoin="round" clip-path="url(#cl-africa)"/>
<path d="M324.5,284.1L331.4,284.2L331.4,284.8L324.5,285.1Z" fill="#fee8c8" stroke="#8c8c8c" stroke-width="0.45" stroke-linejoin="round" clip-path="url(#cl-africa)"/>
<path d="M324.7,287.2L328.2,286.4L331.6,286.4L331.6,288.2L329.3,289.5L328.5,291.1L323.9,292.2Z" fill="#fff7ec" stroke="#8c8c8c" stroke-width="0.45" stroke-linejoin="round" clip-path="url(#cl-africa)"/>
<path d="M328.5,291.1L329.3,289.5L331.6,288.2L331.6,286.4L334.6,287.2L336.9,287.2L338.2,288.2L341.9,287.4L343.5,289.5L343.9,290.8L344.6,292.9L345.3,297.6L344.1,299.7L343.4,299.5L341.4,297.4L339.3,297.4L338.8,295.3L337.7,293.5L335.4,293.7L334.5,294.0L332.6,296.1L330.8,296.1L326.2,292.2Z" fill="#fee8c8" stroke="#8c8c8c" stroke-width="0.45" stroke-linejoin="round" clip-path="url(#cl-africa)"/>
<path d="M332.6,296.1L334.5,294.0L335.4,293.7L337.7,293.5L338.8,295.3L339.3,297.4L338.8,297.9L336.5,301.6L334.2,302.6L330.8,297.4Z" fill="#fee8c8" stroke="#8c8c8c" stroke-width="0.45" stroke-linejoin="round" clip-path="url(#cl-africa)"/>
<path d="M336.5,301.6L338.8,297.9L339.3,297.4L341.4,297.4L343.4,299.5L344.1,299.7L345.7,308.1L344.5,310.5L335.3,303.9Z" fill="#fff7ec" stroke="#8c8c8c" stroke-width="0.45" stroke-linejoin="round" clip-path="url(#cl-africa)"/>
<path d="M345.7,308.1L344.1,299.7L345.3,297.6L344.6,292.9L345.8,292.9L348.5,292.7L350.6,292.4L352.4,294.2L356.1,294.0L356.8,294.8L357.2,298.2L355.6,302.6L356.3,306.3L356.1,309.1L345.7,310.5Z" fill="#fdd49e" stroke="#8c8c8c" stroke-width="0.45" stroke-linejoin="round" clip-path="url(#cl-africa)"/>
<path d="M350.6,292.4L350.6,290.3L352.9,286.9L356.1,284.1L358.4,282.5L360.5,280.7L361.9,280.1L363.5,280.7L363.9,283.0L365.3,285.6L367.6,286.4L368.5,288.5L366.2,289.8L365.1,290.8L363.0,290.6L361.4,291.1L356.6,290.8L356.8,294.8L356.1,294.0L352.4,294.2Z" fill="#fee8c8" stroke="#8c8c8c" stroke-width="0.45" stroke-linejoin="round" clip-path="url(#cl-africa)"/>
<path d="M356.3,306.3L355.6,302.6L357.2,298.2L356.8,294.8L356.6,290.8L361.4,291.1L363.0,290.6L364.1,292.2L363.7,297.4L364.4,298.7L364.2,301.6L365.8,303.7L365.8,306.5L356.1,307.8Z" fill="#fdd49e" stroke="#8c8c8c" stroke-width="0.45" stroke-linejoin="round" clip-path="url(#cl-africa)"/>
<path d="M365.8,303.7L364.2,301.6L364.4,298.7L363.7,297.4L364.1,292.2L363.0,290.6L365.1,290.8L366.2,294.8L366.7,303.4L366.7,305.2L365.8,305.2Z" fill="#fee8c8" stroke="#8c8c8c" stroke-width="0.45" stroke-linejoin="round" clip-path="url(#cl-africa)"/>
<path d="M366.7,303.4L366.2,294.8L365.1,290.8L366.2,289.8L368.5,288.5L371.3,289.0L371.7,292.4L369.2,297.4L369.2,303.0L369.2,305.2L366.7,305.2Z" fill="#fee8c8" stroke="#8c8c8c" stroke-width="0.45" stroke-linejoin="round" clip-path="url(#cl-africa)"/>
<path d="M369.2,303.0L369.2,297.4L371.7,292.4L371.3,289.0L372.6,284.3L376.7,284.1L381.3,285.9L385.9,284.8L391.2,285.4L394.1,283.8L396.2,285.6L395.6,288.2L394.2,291.4L391.8,297.4L390.2,301.3L387.4,302.3L385.6,303.4L383.3,307.1L381.5,310.5L369.2,305.2Z" fill="#fdbb84" stroke="#8c8c8c" stroke-width="0.45" stroke-linejoin="round" clip-path="url(#cl-africa)"/>
<path d="M383.3,307.1L385.6,303.4L387.4,302.3L390.2,301.3L391.8,297.4L394.2,291.4L395.6,288.2L396.2,285.6L396.5,287.7L397.7,289.5L397.5,293.5L395.7,293.7L396.4,298.7L398.7,300.0L396.7,303.4L396.5,307.3L399.7,311.8L400.4,314.1L397.2,314.1L393.5,313.8L389.1,313.8L385.6,313.6L383.8,314.4L382.6,307.8Z" fill="#fdd49e" stroke="#8c8c8c" stroke-width="0.45" stroke-linejoin="round" clip-path="url(#cl-africa)"/>
<path d="M385.6,313.6L389.1,313.8L389.1,317.0L384.7,317.0L382.6,315.7Z" fill="#fff7ec" stroke="#8c8c8c" stroke-width="0.45" stroke-linejoin="round" clip-path="url(#cl-africa)"/>
<path d="M384.7,317.0L389.1,317.0L389.1,313.8L393.5,313.8L393.0,315.9L396.5,320.9L395.3,326.1L391.9,325.9L389.8,328.7L388.8,329.8L386.1,331.4L381.5,322.2L383.8,316.5Z" fill="#fff7ec" stroke="#8c8c8c" stroke-width="0.45" stroke-linejoin="round" clip-path="url(#cl-africa)"/>
<path d="M388.8,329.8L389.8,328.7L391.9,325.9L395.3,326.1L396.5,320.9L393.0,315.9L393.5,313.8L397.2,314.1L400.4,314.1L401.3,310.5L405.7,310.2L405.9,314.4L404.1,320.9L401.1,324.8L399.7,328.0L398.1,330.8L395.3,331.4L393.0,331.9L390.7,332.7L388.4,333.2L387.2,330.6Z" fill="#fee8c8" stroke="#8c8c8c" stroke-width="0.45" stroke-linejoin="round" clip-path="url(#cl-africa)"/>
<path d="M396.5,307.3L396.7,303.4L398.7,300.0L402.1,299.2L406.5,297.1L406.9,296.1L411.3,294.8L412.9,291.9L415.6,291.1L418.7,296.9L418.3,302.6L421.4,306.5L426.0,306.0L420.7,306.8L415.6,307.3L410.3,308.1L405.7,310.2L401.3,310.5L400.4,314.1L399.7,311.8Z" fill="#fee8c8" stroke="#8c8c8c" stroke-width="0.45" stroke-linejoin="round" clip-path="url(#cl-africa)"/>
<path d="M390.7,332.7L393.0,331.9L395.3,331.4L398.1,330.8L399.7,328.0L401.1,324.8L404.1,320.9L405.9,314.4L405.7,310.2L410.3,308.1L415.6,307.3L420.7,306.8L426.0,306.0L427.6,307.6L431.1,307.6L434.1,310.5L433.4,313.6L435.3,314.1L432.1,318.3L431.3,323.3L429.9,326.9L431.1,331.1L431.0,335.3L433.2,341.3L429.5,341.8L428.3,343.6L428.9,348.4L431.4,351.5L430.8,354.4L426.1,351.0L421.6,349.1L418.1,348.4L414.7,348.4L414.0,345.5L413.2,338.7L409.1,337.9L403.3,340.5L399.9,338.9L392.5,335.3L391.1,335.3L389.5,334.8Z" fill="#fdbb84" stroke="#8c8c8c" stroke-width="0.45" stroke-linejoin="round" clip-path="url(#cl-africa)"/>
<path d="M391.1,335.3L392.5,335.3L399.9,338.9L403.3,340.5L409.1,337.9L413.2,338.7L414.0,345.5L414.7,348.4L418.1,348.4L418.0,353.6L413.4,353.6L413.2,361.9L416.1,365.3L410.8,366.7L405.1,365.6L394.9,365.1L389.9,364.8L386.9,364.0L389.5,335.3Z" fill="#fdd49e" stroke="#8c8c8c" stroke-width="0.45" stroke-linejoin="round" clip-path="url(#cl-africa)"/>
<path d="M389.9,364.8L394.9,365.1L405.1,365.6L410.8,366.7L416.1,365.3L420.6,366.1L416.2,367.4L410.8,367.4L410.5,377.1L408.2,377.1L408.0,384.4L407.5,393.8L405.3,394.9L401.9,394.6L399.7,394.4L396.4,395.4L386.9,364.0Z" fill="#fff7ec" stroke="#8c8c8c" stroke-width="0.45" stroke-linejoin="round" clip-path="url(#cl-africa)"/>
<path d="M408.2,377.1L410.5,377.1L410.8,367.4L416.2,367.4L420.6,366.1L422.5,370.8L425.8,373.2L429.4,377.4L423.8,381.3L421.5,384.2L419.1,386.8L414.7,385.7L412.3,388.1L409.5,389.7L408.0,384.4Z" fill="#fff7ec" stroke="#8c8c8c" stroke-width="0.45" stroke-linejoin="round" clip-path="url(#cl-africa)"/>
<path d="M399.7,394.4L401.9,394.6L405.3,394.9L407.5,393.8L408.0,384.4L409.5,389.7L412.3,388.1L414.7,385.7L419.1,386.8L421.5,384.2L423.8,381.3L429.4,377.4L433.7,378.2L435.0,383.6L434.6,386.3L434.8,389.7L436.6,389.9L436.6,392.8L417.3,412.4L402.2,411.1L397.5,395.4Z" fill="#fdbb84" stroke="#8c8c8c" stroke-width="0.45" stroke-linejoin="round" clip-path="url(#cl-africa)"/>
<path d="M422.9,397.0L426.2,394.4L428.3,396.2L426.5,399.3L423.9,399.6Z" fill="#ffffff" stroke="#8c8c8c" stroke-width="0.45" stroke-linejoin="round" clip-path="url(#cl-africa)"/>
<path d="M432.5,387.6L434.9,388.1L434.3,391.0L432.3,390.7Z" fill="#ffffff" stroke="#8c8c8c" stroke-width="0.45" stroke-linejoin="round" clip-path="url(#cl-africa)"/>
<path d="M420.6,366.1L422.5,370.8L425.8,373.2L429.4,377.4L433.7,378.2L436.6,374.5L437.8,369.3L438.0,363.3L432.5,360.4L428.7,362.7L424.5,366.4Z" fill="#fdd49e" stroke="#8c8c8c" stroke-width="0.45" stroke-linejoin="round" clip-path="url(#cl-africa)"/>
<path d="M413.4,353.6L418.0,353.6L418.1,348.4L421.6,349.1L426.1,351.0L430.8,354.4L431.4,351.5L428.9,348.4L428.3,343.6L429.5,341.8L433.2,341.3L438.7,344.2L439.5,347.0L438.7,352.3L439.0,356.2L432.5,360.4L428.7,362.7L424.5,366.4L420.6,366.1L416.1,365.3L413.2,361.9Z" fill="#fee8c8" stroke="#8c8c8c" stroke-width="0.45" stroke-linejoin="round" clip-path="url(#cl-africa)"/>
<path d="M438.7,344.2L441.0,345.0L442.2,349.7L442.3,354.9L443.8,357.0L444.7,361.4L443.0,364.3L441.5,361.9L441.5,357.8L439.0,356.2L438.7,352.3L439.5,347.0Z" fill="#fee8c8" stroke="#8c8c8c" stroke-width="0.45" stroke-linejoin="round" clip-path="url(#cl-africa)"/>
<path d="M432.5,360.4L438.0,363.3L437.8,369.3L436.6,374.5L433.7,378.2L435.0,383.6L434.6,386.3L434.8,389.7L436.6,389.9L439.0,390.2L456.6,361.4L457.2,346.8L455.9,346.8L450.3,348.9L445.2,349.7L442.2,349.7L442.3,354.9L443.8,357.0L444.7,361.4L443.0,364.3L441.5,361.9L441.5,357.8L439.0,356.2Z" fill="#fdd49e" stroke="#8c8c8c" stroke-width="0.45" stroke-linejoin="round" clip-path="url(#cl-africa)"/>
<path d="M455.9,346.8L450.3,348.9L445.2,349.7L442.2,349.7L441.0,345.0L438.7,344.2L433.2,341.3L431.0,335.3L433.1,330.1L434.1,328.2L434.1,325.9L434.1,322.2L441.3,322.2L450.0,327.4L453.4,331.9L455.3,332.7L457.3,345.7Z" fill="#fdd49e" stroke="#8c8c8c" stroke-width="0.45" stroke-linejoin="round" clip-path="url(#cl-africa)"/>
<path d="M453.4,331.9L450.0,327.4L441.3,322.2L441.5,319.1L443.8,315.7L442.6,310.5L442.4,307.6L445.8,307.6L449.5,307.3L453.0,310.5L457.1,308.6L459.7,309.4L457.6,312.3L457.7,321.7L459.1,324.0L459.9,327.4L455.3,332.7Z" fill="#fdd49e" stroke="#8c8c8c" stroke-width="0.45" stroke-linejoin="round" clip-path="url(#cl-africa)"/>
<path d="M434.1,322.2L441.3,322.2L441.5,319.1L443.8,315.7L442.6,310.5L441.2,310.2L439.1,309.4L434.5,309.9L434.1,310.5L433.4,313.6L435.3,314.1L432.1,318.3L431.3,323.3Z" fill="#fdd49e" stroke="#8c8c8c" stroke-width="0.45" stroke-linejoin="round" clip-path="url(#cl-africa)"/>
<path d="M429.9,326.9L431.3,323.3L434.1,322.2L434.1,325.9L432.0,326.9Z" fill="#fee8c8" stroke="#8c8c8c" stroke-width="0.45" stroke-linejoin="round" clip-path="url(#cl-africa)"/>
<path d="M429.9,326.9L432.0,326.9L434.1,325.9L434.1,328.2L433.1,330.1L431.1,331.1Z" fill="#fee8c8" stroke="#8c8c8c" stroke-width="0.45" stroke-linejoin="round" clip-path="url(#cl-africa)"/>
<path d="M441.4,294.8L441.8,291.9L443.3,286.9L446.3,282.2L447.7,282.2L449.7,280.7L452.2,281.4L454.5,281.7L458.1,284.6L460.0,286.9L459.0,290.8L461.8,290.8L461.8,291.1L464.2,296.1L473.1,298.7L466.6,306.8L462.2,307.8L459.7,309.4L457.1,308.6L453.0,310.5L449.5,307.3L445.8,307.6L443.0,302.3L439.0,299.7L441.0,297.6Z" fill="#fdbb84" stroke="#8c8c8c" stroke-width="0.45" stroke-linejoin="round" clip-path="url(#cl-africa)"/>
<path d="M446.3,282.2L447.3,275.2L450.6,272.5L451.6,269.9L462.8,286.9L460.0,286.9L458.1,284.6L454.5,281.7L452.2,281.4L449.7,280.7L447.7,282.2Z" fill="#fee8c8" stroke="#8c8c8c" stroke-width="0.45" stroke-linejoin="round" clip-path="url(#cl-africa)"/>
<path d="M460.0,286.9L462.8,286.9L462.9,290.8L461.8,290.8L459.0,290.8Z" fill="#fff7ec" stroke="#8c8c8c" stroke-width="0.45" stroke-linejoin="round" clip-path="url(#cl-africa)"/>
<path d="M459.1,324.0L457.7,321.7L457.6,312.3L459.7,309.4L462.2,307.8L466.6,306.8L473.1,298.7L464.2,296.1L461.8,291.1L462.9,290.8L466.2,288.2L482.3,288.2L482.6,296.1L462.3,324.8Z" fill="#fee8c8" stroke="#8c8c8c" stroke-width="0.45" stroke-linejoin="round" clip-path="url(#cl-africa)"/>
<path d="M114.8,192.0L170.9,192.0L171.4,190.9L181.2,194.5L189.7,198.3L192.5,201.4L190.5,207.3L188.0,209.9L197.4,207.8L197.6,206.3L203.9,204.2L208.4,202.2L215.0,202.2L217.0,201.1L219.6,197.8L221.9,196.0L224.3,196.3L223.3,200.4L224.2,201.9L224.3,202.7L225.6,204.7L199.7,228.1L183.0,255.6L176.3,255.6L171.3,246.4L146.7,251.6L145.1,251.9L140.9,247.7L139.2,245.1L137.8,241.7L134.0,243.8L131.0,242.2L128.4,236.5L124.6,236.5L124.2,237.8L117.8,237.8L110.7,234.6L105.7,234.6L103.2,236.0L94.8,215.1L108.9,193.2L113.1,193.7Z" fill="#ef6548" stroke="#8c8c8c" stroke-width="0.45" stroke-linejoin="round" clip-path="url(#cl-northamerica)"/>
<path d="M128.1,142.5L103.6,164.0L106.6,164.7L107.0,167.2L112.6,165.2L113.4,168.4L112.7,173.3L114.2,174.7L110.7,177.7L106.4,179.4L27.3,184.4L87.9,137.6L134.9,137.6Z" fill="#ef6548" stroke="#8c8c8c" stroke-width="0.45" stroke-linejoin="round" clip-path="url(#cl-northamerica)"/>
<path d="M105.7,234.6L110.7,234.6L117.8,237.8L124.2,237.8L124.6,236.5L128.4,236.5L131.0,242.2L134.0,243.8L137.8,241.7L139.2,245.1L140.9,247.7L145.1,251.9L146.7,251.6L148.3,269.9L156.0,263.4L167.5,262.1L164.0,271.2L162.2,271.2L160.1,272.8L160.0,273.1L155.9,273.1L155.6,274.5L157.0,274.5L156.6,277.5L153.7,277.5L152.2,279.7L152.0,281.7L151.1,284.3L134.3,280.4L122.3,268.6L109.8,262.1L103.2,236.0Z" fill="#fc8d59" stroke="#8c8c8c" stroke-width="0.45" stroke-linejoin="round" clip-path="url(#cl-northamerica)"/>
<path d="M162.2,271.2L160.1,272.8L159.4,278.0L160.0,278.0L162.1,277.8L163.5,275.2L163.3,271.2Z" fill="#fff7ec" stroke="#8c8c8c" stroke-width="0.45" stroke-linejoin="round" clip-path="url(#cl-northamerica)"/>
<path d="M152.0,281.7L152.2,279.7L153.7,277.5L156.6,277.5L157.0,274.5L155.6,274.5L155.9,273.1L160.0,273.1L159.4,278.0L161.5,278.6L158.9,281.4L158.5,282.0L156.7,283.7L154.6,284.3Z" fill="#fee8c8" stroke="#8c8c8c" stroke-width="0.45" stroke-linejoin="round" clip-path="url(#cl-northamerica)"/>
<path d="M161.5,278.6L158.9,281.4L158.5,282.0L160.4,283.0L161.9,284.6L164.4,284.8L166.1,283.0L168.5,281.7L172.7,280.4L173.5,277.8L162.1,277.3L160.0,278.0Z" fill="#fdd49e" stroke="#8c8c8c" stroke-width="0.45" stroke-linejoin="round" clip-path="url(#cl-northamerica)"/>
<path d="M156.7,283.7L158.5,282.0L160.4,283.0L161.9,284.6L161.8,285.6L156.3,285.1Z" fill="#fee8c8" stroke="#8c8c8c" stroke-width="0.45" stroke-linejoin="round" clip-path="url(#cl-northamerica)"/>
<path d="M161.9,284.6L164.4,284.8L166.1,283.0L168.5,281.7L172.7,280.4L174.3,280.4L171.2,290.8L170.7,291.1L166.2,290.6L162.2,288.2L161.8,285.6Z" fill="#fee8c8" stroke="#8c8c8c" stroke-width="0.45" stroke-linejoin="round" clip-path="url(#cl-northamerica)"/>
<path d="M166.2,290.6L170.7,291.1L173.2,294.8L172.1,298.7L165.6,296.1Z" fill="#fee8c8" stroke="#8c8c8c" stroke-width="0.45" stroke-linejoin="round" clip-path="url(#cl-northamerica)"/>
<path d="M173.2,294.8L172.1,298.7L183.6,300.8L185.2,299.0L184.9,296.9L185.9,295.6L174.4,294.8Z" fill="#fff7ec" stroke="#8c8c8c" stroke-width="0.45" stroke-linejoin="round" clip-path="url(#cl-northamerica)"/>
<path d="M184.9,296.9L188.2,294.8L197.9,286.7L199.4,288.6L197.2,290.6L196.3,293.5L195.1,295.6L196.3,298.7L197.1,301.3L201.5,301.3L206.7,303.4L207.3,305.2L206.6,307.8L207.7,311.0L206.5,312.3L208.5,316.5L208.1,316.5L201.8,316.7L202.7,322.5L201.7,330.6L199.6,329.5L194.4,322.7L189.1,319.9L186.3,318.8L180.8,315.9L178.3,315.7L181.1,300.0L183.6,300.8Z" fill="#fdbb84" stroke="#8c8c8c" stroke-width="0.45" stroke-linejoin="round" clip-path="url(#cl-southamerica)"/>
<path d="M199.4,288.6L197.2,290.6L196.3,293.5L195.1,295.6L196.3,298.7L197.1,301.3L201.5,301.3L206.7,303.4L207.3,305.2L206.6,307.8L207.7,311.0L206.5,312.3L208.5,316.5L211.7,317.8L214.8,315.7L215.3,313.1L213.5,308.6L218.1,309.1L222.3,306.0L223.0,306.0L221.4,304.2L223.2,300.3L225.3,297.9L227.2,296.1L225.2,290.8L197.9,286.9Z" fill="#fdd49e" stroke="#8c8c8c" stroke-width="0.45" stroke-linejoin="round" clip-path="url(#cl-southamerica)"/>
<path d="M225.3,297.9L223.2,300.3L221.4,304.2L223.0,306.0L224.4,306.0L224.8,309.1L225.4,315.2L227.9,316.2L232.6,314.6L229.4,309.4L231.1,303.9L231.7,301.3L226.1,296.1Z" fill="#fff7ec" stroke="#8c8c8c" stroke-width="0.45" stroke-linejoin="round" clip-path="url(#cl-southamerica)"/>
<path d="M231.1,303.9L229.4,309.4L232.6,314.6L236.0,313.1L238.3,313.8L237.3,307.8L238.5,304.7L238.6,302.6L231.7,301.8Z" fill="#fff7ec" stroke="#8c8c8c" stroke-width="0.45" stroke-linejoin="round" clip-path="url(#cl-southamerica)"/>
<path d="M238.5,304.7L237.3,307.8L238.3,313.8L241.3,313.6L243.9,308.6L244.2,305.2Z" fill="url(#hatch)" stroke="#8c8c8c" stroke-width="0.45" stroke-linejoin="round" clip-path="url(#cl-southamerica)"/>
<path d="M243.9,308.6L241.3,313.6L238.3,313.8L236.0,313.1L232.6,314.6L227.9,316.2L225.4,315.2L224.8,309.1L224.4,306.0L223.0,306.0L222.3,306.0L218.1,309.1L213.5,308.6L215.3,313.1L214.8,315.7L211.7,317.8L208.5,316.5L208.1,316.5L201.8,316.7L202.7,322.5L201.7,330.6L194.9,333.2L194.3,336.9L192.8,338.9L196.2,344.4L200.6,344.4L200.8,348.4L203.3,348.1L205.7,348.4L211.2,345.2L213.0,348.1L213.9,351.0L221.0,354.9L224.5,355.7L225.9,360.1L230.2,362.2L229.9,364.8L232.1,366.7L231.2,372.4L232.1,377.4L236.7,377.9L239.1,382.3L240.7,382.3L240.5,386.5L242.3,387.0L242.9,388.1L242.2,391.0L238.9,393.3L235.4,398.5L239.2,400.4L241.6,401.4L245.0,404.6L246.2,407.7L249.3,408.5L257.6,387.6L272.8,379.7L278.4,358.8L284.7,337.9L268.3,322.2L247.6,314.4L245.4,306.5Z" fill="#fc8d59" stroke="#8c8c8c" stroke-width="0.45" stroke-linejoin="round" clip-path="url(#cl-southamerica)"/>
<path d="M180.8,315.9L186.3,318.8L189.1,319.9L188.4,323.8L185.3,326.1L182.1,328.5L181.0,332.7L178.9,331.4L177.7,328.5L174.9,326.1L176.0,315.7Z" fill="#fdd49e" stroke="#8c8c8c" stroke-width="0.45" stroke-linejoin="round" clip-path="url(#cl-southamerica)"/>
<path d="M177.7,328.5L178.9,331.4L181.0,332.7L182.1,328.5L185.3,326.1L188.4,323.8L189.1,319.9L194.4,322.7L199.6,329.5L201.7,330.6L194.9,333.2L194.3,336.9L192.8,338.9L196.2,344.4L200.6,344.4L200.8,348.4L203.3,348.1L205.5,352.3L204.6,356.2L205.3,360.1L204.7,365.3L202.8,367.4L199.3,368.0L174.0,335.3Z" fill="#fdbb84" stroke="#8c8c8c" stroke-width="0.45" stroke-linejoin="round" clip-path="url(#cl-southamerica)"/>
<path d="M203.3,348.1L205.7,348.4L211.2,345.2L213.0,348.1L213.9,351.0L221.0,354.9L224.5,355.7L225.9,360.1L230.2,362.2L229.9,364.8L232.1,366.7L231.2,372.4L222.9,373.2L221.9,374.8L221.6,377.9L217.9,379.2L216.1,377.4L213.1,377.1L211.3,379.2L208.6,375.3L207.7,373.2L206.4,369.3L204.7,365.3L205.3,360.1L204.6,356.2L205.5,352.3Z" fill="#fee8c8" stroke="#8c8c8c" stroke-width="0.45" stroke-linejoin="round" clip-path="url(#cl-southamerica)"/>
<path d="M202.8,367.4L204.7,365.3L206.4,369.3L207.7,373.2L208.6,375.3L211.3,379.2L211.4,382.3L209.3,384.9L209.9,390.2L208.2,398.0L209.2,404.6L209.9,411.1L209.8,416.3L210.3,421.5L211.0,426.7L213.7,434.5L215.8,440.9L215.8,444.7L216.0,449.8L219.1,452.3L220.8,454.8L227.9,455.5L238.7,464.7L202.6,449.8L194.6,366.7Z" fill="#fdd49e" stroke="#8c8c8c" stroke-width="0.45" stroke-linejoin="round" clip-path="url(#cl-southamerica)"/>
<path d="M211.3,379.2L213.1,377.1L216.1,377.4L217.9,379.2L221.6,377.9L225.6,381.8L233.6,385.7L232.1,391.0L238.4,391.5L240.5,386.5L242.3,387.0L242.9,388.1L242.2,391.0L238.9,393.3L235.4,398.5L235.1,404.6L235.4,408.5L241.6,413.7L242.5,464.7L227.9,455.5L220.8,454.8L219.1,452.3L216.0,449.8L215.8,444.7L215.8,440.9L213.7,434.5L211.0,426.7L210.3,421.5L209.8,416.3L209.9,411.1L209.2,404.6L208.2,398.0L209.9,390.2L209.3,384.9L211.4,382.3Z" fill="#fdbb84" stroke="#8c8c8c" stroke-width="0.45" stroke-linejoin="round" clip-path="url(#cl-southamerica)"/>
<path d="M231.2,372.4L232.1,377.4L236.7,377.9L239.1,382.3L240.7,382.3L240.5,386.5L240.9,390.2L238.4,391.5L232.1,391.0L233.6,385.7L225.6,381.8L221.6,377.9L221.9,374.8L222.9,373.2Z" fill="#fee8c8" stroke="#8c8c8c" stroke-width="0.45" stroke-linejoin="round" clip-path="url(#cl-southamerica)"/>
<path d="M246.2,407.7L245.0,404.6L241.6,401.4L239.2,400.4L235.4,398.5L235.1,404.6L235.4,408.5L235.6,411.1L245.7,412.4Z" fill="#fee8c8" stroke="#8c8c8c" stroke-width="0.45" stroke-linejoin="round" clip-path="url(#cl-southamerica)"/>
<path d="M352.5,178.7L351.3,179.4L349.4,178.9L348.2,179.2L347.1,178.2L348.7,176.9L349.0,175.7L351.5,175.7L353.3,178.2Z" fill="#fc8d59" stroke="#8c8c8c" stroke-width="0.45" stroke-linejoin="round" clip-path="url(#cl-ireland)"/>
<path d="M616.0,314.6L619.3,317.0L622.8,315.7L627.4,315.7L629.6,311.8L630.7,309.1L634.3,308.6L639.9,307.8L634.7,298.7L612.3,311.8Z" fill="#fdd49e" stroke="#8c8c8c" stroke-width="0.45" stroke-linejoin="round" clip-path="url(#cl-borneo)"/>
<path d="M688.5,326.4L687.9,337.6L687.4,343.4L686.5,351.0L709.5,351.0L711.6,324.8Z" fill="#fdd49e" stroke="#8c8c8c" stroke-width="0.45" stroke-linejoin="round" clip-path="url(#cl-newguinea)"/>
<path d="M200.3,267.6L199.8,272.5L199.7,273.9L208.1,273.9L208.7,267.3Z" fill="#fee8c8" stroke="#8c8c8c" stroke-width="0.45" stroke-linejoin="round" clip-path="url(#cl-hispaniola)"/>
<path d="M227.9,455.5L231.3,463.5L240.1,463.5L236.9,455.5Z" fill="#fdbb84" stroke="#8c8c8c" stroke-width="0.45" stroke-linejoin="round" clip-path="url(#cl-tdf)"/>
<path d="M350.9,225.5L349.4,224.2L347.9,222.4L343.8,222.9L344.1,220.3L342.7,218.2L344.6,212.0L344.3,209.4L343.5,207.6L345.5,206.3L346.5,205.3L351.1,205.8L355.1,206.0L358.8,206.6L359.9,206.0L360.5,202.9L360.5,199.1L358.5,196.3L353.9,194.8L353.3,193.5L353.7,193.0L359.0,192.7L359.8,190.2L363.2,190.7L365.2,189.7L366.8,186.9L368.8,186.4L371.1,184.7L372.4,181.9L375.7,180.9L379.9,179.7L379.1,175.7L379.3,171.8L383.0,170.3L383.0,173.3L383.6,174.0L382.3,176.9L382.8,178.4L384.2,179.4L386.5,178.9L388.9,177.9L390.8,179.7L393.3,178.9L399.2,178.4L402.6,177.7L403.5,175.2L403.0,173.3L403.8,171.1L405.5,170.2L408.7,172.0L408.9,168.6L406.7,167.2L408.8,166.2L414.9,166.0L418.8,165.0L415.6,163.1L409.0,164.3L405.5,165.2L402.2,163.3L401.6,157.5L407.0,153.5L407.8,153.0L405.1,151.2L401.5,151.7L399.1,155.8L394.2,159.1L394.3,163.1L398.1,166.4L394.6,168.4L394.2,172.8L392.8,174.2L388.0,175.9L387.3,174.5L385.4,170.3L383.8,166.9L382.8,166.0L382.2,167.2L378.0,169.4L373.4,167.4L372.4,163.8L372.5,161.2L374.0,158.9L378.1,156.5L381.5,154.2L384.7,150.8L387.6,147.8L389.2,145.6L393.1,142.9L394.5,142.5L397.8,141.4L401.6,140.1L405.2,139.5L409.8,139.9L414.4,140.9L412.1,142.2L418.2,143.4L424.3,144.0L432.8,146.9L432.3,150.3L423.6,150.1L418.6,148.3L423.3,152.3L424.6,154.4L428.7,155.6L430.4,155.4L434.4,153.9L432.5,151.9L435.6,149.9L439.0,149.6L436.4,144.9L441.3,146.7L440.3,148.7L445.2,148.1L452.7,145.6L452.9,144.8L462.9,143.2L471.3,144.0L478.9,145.5L475.9,140.9L473.6,136.4L478.9,136.4L481.2,139.4L482.8,144.8L486.6,150.1L488.9,149.4L487.4,143.2L485.1,137.9L483.5,136.4L486.6,137.1L490.4,136.4L493.5,137.1L497.3,132.5L501.9,131.8L508.0,129.5L517.2,126.4L524.8,127.9L537.1,129.5L540.1,133.3L552.4,134.8L559.4,135.5L563.2,134.6L568.8,135.9L576.1,139.7L581.2,138.6L588.1,136.5L588.8,135.9L594.5,136.5L607.3,138.6L612.8,140.1L620.3,139.7L627.6,141.2L631.5,142.7L638.1,142.7L645.2,141.8L654.5,142.5L665.2,144.0L678.9,153.0L674.6,153.7L685.2,158.9L678.4,160.5L677.2,162.4L676.6,164.7L668.3,164.0L665.8,165.0L667.8,168.4L667.8,170.1L673.2,174.0L674.0,179.4L673.8,183.2L674.8,186.9L668.6,181.9L660.9,174.5L658.3,170.8L659.8,169.6L659.5,166.0L657.8,160.0L653.8,161.2L648.5,160.5L648.4,166.0L642.2,165.7L637.8,166.4L628.5,166.4L626.9,169.6L628.3,178.2L632.5,179.7L638.8,181.4L642.1,185.7L644.3,189.4L646.3,192.2L646.0,198.3L645.6,205.5L639.0,207.1L637.7,209.1L636.6,210.4L637.5,213.0L634.7,215.6L635.2,217.2L638.9,219.5L643.5,225.5L643.8,227.9L641.1,229.2L638.7,229.2L636.6,224.2L635.6,221.6L632.0,220.3L630.4,218.7L629.6,216.1L627.7,215.3L624.4,216.4L623.2,218.0L621.6,216.4L622.4,213.8L621.0,212.8L619.5,213.0L617.5,215.3L614.9,217.7L618.8,221.6L621.3,222.4L622.8,220.8L626.9,221.9L624.6,223.9L623.7,225.2L623.0,229.2L625.7,230.2L628.4,234.4L631.7,236.7L632.4,238.6L631.0,240.4L633.7,241.7L633.5,245.1L632.3,246.4L631.1,251.6L628.7,255.6L626.1,258.4L621.0,261.3L617.4,262.6L614.1,263.4L613.1,266.5L611.2,263.4L609.8,263.4L607.4,263.4L604.7,265.2L603.5,268.6L603.3,270.7L605.6,273.9L608.5,276.5L610.0,277.5L613.1,283.5L613.5,287.7L613.0,290.1L609.2,292.4L608.0,294.8L604.2,297.1L604.4,293.7L603.2,292.4L600.8,291.9L598.1,288.0L594.6,286.4L593.2,284.3L592.1,286.9L591.0,292.7L593.8,297.4L594.7,300.8L598.8,303.7L601.6,309.7L602.2,314.4L603.8,315.9L602.0,316.2L598.9,313.8L596.8,311.8L594.3,305.5L593.7,302.6L591.0,300.0L589.3,298.7L589.5,293.5L589.1,287.2L587.2,281.7L585.7,276.5L581.9,275.4L580.4,278.3L578.3,277.5L578.3,272.5L576.0,268.6L573.7,267.1L571.7,264.2L570.4,261.3L567.6,262.1L564.3,262.9L562.3,263.1L559.9,265.2L557.7,267.8L555.1,270.5L552.7,273.3L550.7,276.2L548.3,277.3L546.6,280.4L547.0,285.4L546.7,292.7L545.2,295.6L542.9,296.6L541.4,298.4L538.5,293.7L537.0,290.1L534.5,285.9L531.6,279.1L529.2,272.5L528.4,269.9L527.4,264.4L526.8,261.6L523.9,265.5L518.9,261.3L521.4,260.0L517.4,257.9L513.6,254.8L512.3,253.2L507.9,253.7L503.0,254.0L501.2,253.7L496.6,253.2L492.7,252.7L490.4,249.0L488.8,248.8L485.6,250.1L482.7,249.5L477.9,246.7L476.0,244.1L473.8,240.9L471.5,240.4L469.4,241.2L469.6,243.0L471.1,245.9L473.9,249.0L475.5,251.6L477.2,255.0L478.0,251.4L478.9,253.5L479.2,256.3L481.2,256.3L485.4,255.6L487.2,253.5L488.6,252.2L489.1,250.6L489.9,255.6L492.5,257.4L495.1,257.9L498.0,260.8L495.6,266.3L494.3,269.9L492.2,271.0L491.6,272.8L488.8,274.4L486.1,275.2L482.3,278.8L475.3,281.7L471.8,284.1L466.2,286.1L462.5,286.7L460.6,279.6L459.9,275.4L456.6,269.9L451.7,263.4L448.6,256.6L444.8,251.6L441.0,246.1L440.7,242.5L440.5,242.5L438.5,237.8L439.6,235.7L439.8,233.9L440.6,231.0L441.1,229.7L440.8,226.8L441.3,223.9L439.8,223.9L437.7,223.4L434.5,225.2L432.2,224.2L429.3,223.2L425.7,223.9L424.1,223.4L422.1,222.9L421.4,220.3L420.5,219.3L420.4,216.4L418.9,216.4L419.2,214.8L418.6,213.5L417.9,212.9L414.7,212.8L413.7,215.1L411.6,213.5L411.1,215.1L411.9,216.9L412.9,218.7L414.5,219.8L413.9,220.6L412.8,222.1L412.7,224.2L411.7,224.2L409.9,223.4L408.4,220.8L409.6,219.5L407.3,217.7L406.1,216.4L404.2,213.8L404.0,211.7L402.8,209.7L401.0,208.4L397.2,206.0L394.6,204.5L392.8,201.4L391.1,201.9L391.5,200.6L388.4,201.1L388.6,203.7L391.2,205.8L392.8,208.6L397.1,210.2L398.8,212.2L401.2,213.5L402.2,215.6L399.5,214.1L398.2,216.1L399.6,217.7L398.6,219.3L396.5,220.3L396.8,218.0L397.1,216.4L394.4,213.5L393.1,213.0L391.8,212.0L388.7,210.4L386.3,208.9L384.5,206.0L383.4,204.5L381.5,203.7L378.6,205.3L375.3,207.1L374.1,206.6L372.4,206.3L371.1,206.0L369.5,208.6L369.7,210.2L367.6,211.5L365.5,212.2L364.9,213.3L362.4,216.4L363.4,218.5L361.9,219.5L360.8,221.3L358.2,223.7L357.6,223.4L353.5,223.7L351.3,225.2ZM422.5,211.5L421.6,208.6L422.9,205.3L424.9,202.4L426.2,199.5L428.2,199.1L430.3,200.8L431.1,202.2L432.8,204.1L434.0,203.6L437.3,202.8L439.4,202.6L442.6,204.5L446.8,206.9L449.6,209.0L450.1,211.1L448.0,212.3L443.1,211.9L438.1,210.2L433.6,210.2L430.3,211.1L427.0,212.3L424.1,212.3ZM461.0,200.6L461.7,199.6L464.7,199.1L469.0,196.8L471.7,198.3L472.9,201.4L469.5,203.5L469.8,205.8L473.6,208.6L474.5,211.2L476.0,211.2L475.8,215.1L478.3,218.0L479.3,222.9L474.2,223.4L469.9,221.9L467.9,219.3L468.2,216.4L469.8,214.1L468.1,213.8L464.7,209.9L462.5,207.3L461.2,203.5ZM435.2,199.5L438.1,198.3L440.6,198.7L440.2,201.2L437.3,201.6L435.6,201.2Z" fill="none" stroke="#8c8c8c" stroke-width="0.45" stroke-linejoin="round"/>
<path d="M350.4,226.0L348.1,230.7L346.4,231.8L342.6,234.6L341.4,237.3L341.7,240.1L339.7,243.8L334.2,246.7L330.5,251.1L327.2,257.7L324.4,265.2L326.0,268.6L326.6,272.3L325.3,277.8L323.0,281.2L325.0,284.6L324.5,287.2L327.2,288.8L329.2,291.6L331.5,294.8L332.6,297.4L334.2,300.3L338.1,303.1L342.2,306.5L345.7,308.1L350.3,306.3L353.8,305.7L358.4,307.1L362.5,305.2L365.8,303.7L370.8,302.9L373.4,303.4L376.8,308.4L380.3,307.8L382.1,306.8L385.4,309.1L385.6,314.6L384.7,318.6L383.1,321.2L384.9,326.1L387.7,328.5L390.5,332.1L391.1,335.3L393.4,342.6L394.2,347.8L393.7,352.5L390.7,359.3L389.9,364.8L391.4,369.3L395.7,379.5L397.0,389.1L399.7,394.4L401.7,399.3L403.2,404.6L403.2,408.5L406.6,410.6L412.2,408.5L419.0,408.5L424.2,405.9L431.8,397.8L435.1,394.1L436.1,387.6L437.1,385.7L443.0,382.1L443.3,375.8L442.0,371.4L447.0,366.4L453.1,362.7L456.1,358.8L456.1,347.0L453.9,340.5L453.6,337.4L452.4,335.3L454.6,330.1L455.8,326.9L458.8,324.3L461.2,320.6L463.5,317.5L467.6,314.4L471.4,309.1L474.9,305.7L477.7,299.2L480.9,292.4L480.7,288.8L477.8,289.5L473.2,290.3L466.4,292.4L462.9,289.8L461.9,289.3L460.9,285.6L458.0,283.0L454.4,279.9L453.2,278.8L450.7,273.9L447.5,268.4L446.8,264.7L442.9,256.9L440.3,251.6L437.8,247.7L435.1,241.4L435.5,243.3L437.7,245.9L439.3,246.9L440.5,242.5L438.5,237.8L434.3,237.8L431.4,237.3L429.0,238.0L424.9,238.6L418.1,237.0L415.8,236.0L413.5,234.4L409.1,233.6L407.0,235.7L406.2,239.9L402.8,239.1L399.7,238.0L396.6,235.2L392.0,233.6L388.2,232.8L385.1,231.0L387.2,227.6L385.7,224.2L386.7,222.6L384.3,222.1L381.4,223.2L375.9,222.9L369.5,223.4L365.2,224.2L361.7,226.3L358.2,227.9L353.2,227.6L351.5,225.8Z" fill="none" stroke="#8c8c8c" stroke-width="0.45" stroke-linejoin="round"/>
<path d="M476.1,351.0L477.5,354.9L478.4,360.1L476.5,364.0L475.4,366.7L472.9,373.2L469.9,383.6L468.6,384.9L464.4,386.5L461.9,384.9L461.5,381.0L461.0,375.8L463.8,370.6L463.3,364.0L464.6,361.9L468.7,360.9L472.7,355.1Z" fill="none" stroke="#8c8c8c" stroke-width="0.45" stroke-linejoin="round"/>
<path d="M547.0,294.0L549.2,296.6L551.6,300.0L551.1,302.9L548.8,304.2L547.6,303.1L546.7,298.7Z" fill="none" stroke="#8c8c8c" stroke-width="0.45" stroke-linejoin="round"/>
<path d="M365.8,186.7L365.0,185.7L366.4,183.2L363.6,182.2L363.2,180.4L361.8,178.2L360.3,176.9L359.2,175.0L357.3,174.5L358.2,173.3L359.0,171.8L359.6,170.6L356.4,170.6L355.5,169.9L357.4,168.2L353.7,168.2L352.6,170.8L351.6,173.3L352.2,176.2L353.3,177.7L356.6,177.2L356.4,178.9L357.1,180.9L354.2,180.9L353.8,182.4L354.7,183.7L352.5,184.7L355.1,185.4L357.0,185.9L354.7,186.4L351.6,189.2L354.8,188.5L358.2,187.9L360.4,187.4L362.8,187.4L363.6,187.5Z" fill="none" stroke="#8c8c8c" stroke-width="0.45" stroke-linejoin="round"/>
<path d="M351.4,176.4L352.3,178.2L351.3,181.2L350.6,183.9L347.2,184.9L343.6,185.9L342.7,184.2L344.3,182.9L343.8,181.2L343.6,178.9L346.5,178.4L347.0,176.9L349.0,175.9Z" fill="none" stroke="#8c8c8c" stroke-width="0.45" stroke-linejoin="round"/>
<path d="M323.9,155.8L323.3,154.2L320.8,153.2L323.7,151.9L320.3,151.7L324.1,149.9L331.0,150.3L337.1,149.6L339.2,152.6L337.4,154.4L330.9,156.8L326.5,156.1Z" fill="none" stroke="#8c8c8c" stroke-width="0.45" stroke-linejoin="round"/>
<path d="M389.6,220.0L396.5,219.5L395.6,223.7L389.9,221.3Z" fill="none" stroke="#8c8c8c" stroke-width="0.45" stroke-linejoin="round"/>
<path d="M380.4,212.5L383.7,212.5L383.5,217.4L381.0,218.0Z" fill="none" stroke="#8c8c8c" stroke-width="0.45" stroke-linejoin="round"/>
<path d="M382.7,207.3L383.0,209.9L382.4,211.5L381.1,210.2Z" fill="none" stroke="#8c8c8c" stroke-width="0.45" stroke-linejoin="round"/>
<path d="M414.1,227.3L420.2,227.6L416.4,228.4Z" fill="none" stroke="#8c8c8c" stroke-width="0.45" stroke-linejoin="round"/>
<path d="M433.3,228.1L438.1,226.3L436.8,228.4L434.3,229.2Z" fill="none" stroke="#8c8c8c" stroke-width="0.45" stroke-linejoin="round"/>
<path d="M379.2,124.5L386.0,121.6L394.7,122.0L389.9,126.4L386.4,127.4L383.9,126.4Z" fill="none" stroke="#8c8c8c" stroke-width="0.45" stroke-linejoin="round"/>
<path d="M390.9,121.1L401.7,121.4L397.8,122.9Z" fill="none" stroke="#8c8c8c" stroke-width="0.45" stroke-linejoin="round"/>
<path d="M653.7,138.6L655.8,138.4L658.4,139.9L656.8,139.9Z" fill="none" stroke="#8c8c8c" stroke-width="0.45" stroke-linejoin="round"/>
<path d="M70.2,138.4L73.2,139.0L71.6,139.7L67.6,139.9Z" fill="none" stroke="#8c8c8c" stroke-width="0.45" stroke-linejoin="round"/>
<path d="M60.8,144.0L63.5,146.7L67.4,148.7L68.7,150.5L64.5,151.9L58.4,154.4L54.9,153.7L54.9,151.9L47.1,153.0Z" fill="none" stroke="#8c8c8c" stroke-width="0.45" stroke-linejoin="round"/>
<path d="M661.2,212.0L666.0,216.4L665.5,219.5L668.2,225.5L667.9,228.1L666.4,227.3L665.7,229.2L661.8,229.2L661.7,229.9L660.4,232.0L658.7,231.2L657.8,229.2L653.4,229.9L649.3,230.7L649.6,229.7L651.3,226.8L657.3,226.5L657.8,222.1L659.6,223.4L661.5,220.6L661.2,215.3L659.7,212.0Z" fill="none" stroke="#8c8c8c" stroke-width="0.45" stroke-linejoin="round"/>
<path d="M657.8,209.9L656.7,206.6L655.4,201.1L658.3,202.7L665.0,204.0L667.1,206.6L664.7,209.9L659.4,209.1Z" fill="none" stroke="#8c8c8c" stroke-width="0.45" stroke-linejoin="round"/>
<path d="M648.9,230.7L652.1,232.8L653.1,237.5L651.6,238.6L648.0,234.1L646.9,232.3Z" fill="none" stroke="#8c8c8c" stroke-width="0.45" stroke-linejoin="round"/>
<path d="M653.5,233.1L657.6,231.2L656.2,229.9L653.4,230.5Z" fill="none" stroke="#8c8c8c" stroke-width="0.45" stroke-linejoin="round"/>
<path d="M638.4,178.7L644.8,183.2L651.6,190.7L654.8,192.2L655.7,197.6L654.9,199.6L651.4,194.5L644.9,186.9Z" fill="none" stroke="#8c8c8c" stroke-width="0.45" stroke-linejoin="round"/>
<path d="M635.9,253.5L637.2,254.3L636.5,262.1L635.8,262.1L633.7,258.2L635.0,254.3Z" fill="none" stroke="#8c8c8c" stroke-width="0.45" stroke-linejoin="round"/>
<path d="M612.5,267.1L615.0,268.1L614.3,271.5L612.2,272.0L609.7,269.4L611.0,267.3Z" fill="none" stroke="#8c8c8c" stroke-width="0.45" stroke-linejoin="round"/>
<path d="M614.7,315.7L616.0,314.4L619.3,315.4L623.8,311.2L629.4,306.5L632.1,301.6L638.1,305.5L635.2,308.1L635.0,316.5L637.8,317.2L634.4,319.6L632.0,323.5L631.1,329.5L627.2,330.1L620.3,327.7L617.4,327.2L616.8,323.3L614.8,319.6Z" fill="none" stroke="#8c8c8c" stroke-width="0.45" stroke-linejoin="round"/>
<path d="M665.5,323.0L672.5,322.0L675.7,328.2L681.2,323.5L688.5,326.4L697.5,331.4L703.0,335.3L703.3,340.5L707.8,346.5L703.3,345.7L699.1,340.5L694.6,339.5L692.0,343.6L687.4,343.4L683.0,340.8L680.6,341.6L680.9,332.7L674.5,331.1L669.0,330.1L667.7,326.9L671.2,325.6Z" fill="none" stroke="#8c8c8c" stroke-width="0.45" stroke-linejoin="round"/>
<path d="M648.0,346.5L651.2,341.8L656.0,341.6L650.5,344.7Z" fill="none" stroke="#8c8c8c" stroke-width="0.45" stroke-linejoin="round"/>
<path d="M638.7,342.6L639.2,341.3L646.2,341.0L645.6,342.3Z" fill="none" stroke="#8c8c8c" stroke-width="0.45" stroke-linejoin="round"/>
<path d="M632.0,343.1L632.3,341.6L637.0,340.8L636.8,342.6Z" fill="none" stroke="#8c8c8c" stroke-width="0.45" stroke-linejoin="round"/>
<path d="M657.4,314.4L659.7,315.7L658.6,318.3L660.5,320.9L658.1,322.0L657.5,318.3Z" fill="none" stroke="#8c8c8c" stroke-width="0.45" stroke-linejoin="round"/>
<path d="M658.4,327.4L664.8,329.5L661.9,328.2L658.9,328.7Z" fill="none" stroke="#8c8c8c" stroke-width="0.45" stroke-linejoin="round"/>
<path d="M690.4,347.6L691.5,356.2L695.3,358.8L695.4,363.8L696.4,370.0L700.8,374.8L703.0,380.8L707.3,384.9L705.0,391.5L704.9,394.4L698.7,403.2L696.1,405.6L693.8,408.2L688.6,413.7L686.0,417.6L679.9,418.9L676.0,421.8L674.0,419.4L670.2,421.0L666.7,419.9L664.4,416.8L665.7,413.2L663.8,412.7L664.6,411.1L665.5,405.9L662.7,408.0L659.0,410.8L657.7,405.1L657.2,403.5L651.9,401.9L647.3,402.5L637.7,404.6L629.5,408.2L619.7,411.1L614.2,409.5L617.7,403.2L618.0,394.9L617.1,387.8L618.4,384.7L620.7,376.8L627.0,373.7L631.9,372.7L637.8,370.6L641.1,366.7L644.8,362.7L649.0,357.5L653.8,355.7L656.2,358.8L659.2,358.5L660.9,353.6L663.0,352.0L667.2,349.1L675.0,351.0L676.8,351.8L674.4,354.4L672.9,358.8L676.8,362.2L680.8,365.1L683.7,365.3L686.6,358.8L687.7,352.3Z" fill="none" stroke="#8c8c8c" stroke-width="0.45" stroke-linejoin="round"/>
<path d="M669.7,425.9L677.1,426.4L672.5,432.4L669.3,433.4L668.2,430.1Z" fill="none" stroke="#8c8c8c" stroke-width="0.45" stroke-linejoin="round"/>
<path d="M739.9,409.5L742.1,411.9L740.6,415.8L742.6,416.3L742.5,418.4L747.0,418.1L743.1,422.0L740.5,422.8L737.1,425.4L732.5,427.5L735.6,424.1L734.2,422.3L737.3,420.2L739.4,415.0Z" fill="none" stroke="#8c8c8c" stroke-width="0.45" stroke-linejoin="round"/>
<path d="M729.6,425.4L731.6,427.2L727.9,430.3L724.4,432.4L723.8,433.9L718.6,435.7L714.4,439.3L710.4,441.1L707.9,441.1L706.0,439.1L708.7,437.0L714.0,434.2L720.0,431.9L724.7,428.5L727.6,426.4Z" fill="none" stroke="#8c8c8c" stroke-width="0.45" stroke-linejoin="round"/>
<path d="M70.1,151.7L76.4,149.6L83.3,147.2L82.1,145.6L90.9,142.9L95.1,141.2L107.0,139.0L113.2,140.1L117.4,141.2L122.3,141.8L128.1,142.5L135.4,143.4L141.0,142.9L150.0,142.1L151.9,141.6L155.6,142.6L162.2,144.0L167.9,144.9L168.8,146.8L178.2,147.3L179.2,145.9L184.8,145.9L190.5,147.3L198.9,148.2L202.7,146.8L205.5,143.5L206.5,139.8L210.2,138.8L211.2,141.6L214.0,146.4L215.9,148.2L223.4,144.5L226.2,146.8L215.0,151.0L206.5,156.7L202.9,156.2L194.1,161.2L187.9,167.4L188.8,170.9L195.9,172.6L202.9,176.2L203.8,179.7L204.7,185.0L209.1,184.1L210.0,177.9L215.3,173.5L217.9,168.2L218.8,162.9L221.5,160.3L227.6,159.8L232.9,161.2L236.5,166.5L241.8,164.7L245.3,163.8L244.4,166.0L245.5,173.3L248.4,176.4L251.8,180.7L253.0,184.4L248.9,185.9L244.9,188.9L233.9,188.9L229.7,189.4L224.8,192.0L218.9,197.1L224.3,193.2L229.0,191.5L233.1,192.5L230.6,195.8L229.9,199.6L234.1,200.6L237.1,200.9L239.6,199.6L237.8,202.2L231.0,203.2L226.2,206.0L225.5,203.7L229.7,201.4L226.5,201.7L224.1,202.7L220.0,204.0L216.6,205.5L214.9,208.1L214.0,209.1L215.5,210.2L212.0,211.5L207.4,212.5L206.0,213.5L205.1,216.4L202.5,218.0L201.4,220.3L199.0,222.9L198.7,227.6L196.2,228.9L192.5,231.0L187.6,233.9L184.4,236.0L182.7,240.4L183.5,245.4L183.3,252.2L181.2,254.0L179.7,251.1L178.5,246.9L178.5,243.3L176.7,241.2L174.4,242.0L172.5,240.4L169.9,240.1L168.1,240.1L164.7,240.7L164.7,243.8L161.9,243.3L158.8,242.2L154.8,242.0L152.4,243.0L148.0,245.9L145.9,247.2L145.1,251.9L143.1,256.3L142.1,261.3L142.7,266.0L144.7,269.4L148.2,272.3L152.7,271.0L154.9,271.2L157.6,267.8L158.5,264.7L160.4,263.9L165.0,263.4L166.5,264.2L164.3,268.6L162.2,271.2L162.1,273.9L160.0,278.0L162.0,278.3L166.6,278.0L171.2,278.0L172.7,280.4L171.5,286.9L170.8,290.8L172.2,293.5L175.5,296.6L179.2,295.0L182.4,295.0L184.9,296.9L185.7,298.7L183.6,300.8L182.5,298.4L180.1,296.3L177.9,297.9L177.8,300.5L175.3,299.2L173.1,298.2L170.4,297.1L165.9,293.5L166.2,290.8L163.5,287.4L162.3,284.8L158.0,284.3L153.5,283.0L151.8,281.7L149.4,278.8L145.7,277.3L141.5,278.0L135.2,275.7L130.3,272.8L125.5,269.9L123.4,266.3L124.8,263.4L123.0,259.0L120.3,254.3L117.4,252.2L115.7,246.7L113.5,243.8L113.3,239.9L110.1,236.5L109.8,241.2L111.7,243.8L112.6,249.0L113.7,251.6L114.7,256.3L115.0,259.7L113.9,258.2L110.9,254.8L111.6,250.3L106.5,246.9L108.5,245.1L106.7,239.9L105.6,237.3L105.7,234.6L104.0,231.2L99.9,229.4L99.3,224.2L99.6,220.8L98.4,217.7L98.7,214.1L103.9,206.0L108.4,198.8L110.4,193.5L113.6,195.5L115.4,192.0L113.8,188.9L109.3,186.9L111.2,183.2L111.3,178.2L110.3,176.9L111.1,170.8L108.2,168.9L107.5,167.7L104.0,165.5L97.6,164.5L93.4,163.3L89.1,164.7L81.5,166.7L89.5,161.9L81.7,164.7L76.3,167.2L67.7,170.8L61.3,173.3L56.5,175.0L47.1,177.4L52.4,175.2L58.4,173.3L69.0,167.9L64.6,167.7L60.3,168.2L64.1,164.7L61.9,162.9L66.0,158.9L70.2,157.0L79.0,154.2L74.9,153.9L70.2,154.2Z" fill="none" stroke="#8c8c8c" stroke-width="0.45" stroke-linejoin="round"/>
<path d="M184.9,296.9L186.9,297.4L189.5,292.4L191.2,290.8L194.2,290.1L199.0,287.2L198.0,289.3L198.5,290.8L199.9,291.1L201.8,289.8L202.4,287.7L203.5,289.5L205.8,292.2L209.0,291.9L212.4,293.2L215.5,291.9L220.5,291.6L222.6,297.4L225.3,297.9L228.9,301.8L231.6,303.9L235.7,304.2L238.7,304.7L242.4,306.8L243.9,308.6L245.3,310.5L247.6,314.9L247.5,319.6L251.0,323.0L254.5,321.4L260.3,326.1L263.7,326.1L267.2,327.2L274.2,329.3L277.6,332.1L281.8,334.8L282.8,338.4L282.7,340.8L280.9,345.0L278.0,348.4L274.8,353.6L273.8,358.3L273.7,365.9L272.8,369.8L271.6,372.7L270.3,377.1L268.2,379.7L265.5,379.7L262.7,380.5L258.7,382.3L254.1,386.3L254.7,391.7L252.9,395.4L251.9,399.3L250.2,402.7L248.3,403.5L246.2,407.7L243.4,411.0L240.6,410.8L236.9,409.8L235.4,408.5L235.6,410.0L238.9,413.4L240.2,414.5L239.5,418.9L235.6,420.7L229.7,421.2L230.8,424.1L229.6,426.7L225.2,426.2L226.1,429.3L229.5,430.6L226.9,431.9L227.4,435.7L224.7,438.3L224.1,439.6L228.7,442.1L228.9,443.9L226.7,448.0L226.2,451.0L226.3,453.8L228.4,455.8L225.5,456.5L223.5,458.5L225.4,458.5L225.3,456.0L219.3,453.5L218.4,456.0L217.5,456.0L214.3,453.5L211.6,449.8L209.7,444.7L208.0,440.9L209.3,438.3L210.0,434.5L209.7,430.6L207.4,428.0L206.6,423.6L204.5,417.6L205.1,415.8L205.5,412.4L205.9,405.9L205.0,400.6L204.8,397.8L204.7,391.5L204.8,386.3L204.3,381.3L204.0,374.5L203.1,368.0L200.6,365.6L195.3,362.7L191.6,360.1L188.5,355.4L186.1,351.0L182.2,343.4L181.1,340.8L178.9,336.6L176.0,335.3L175.4,331.9L177.7,328.5L178.3,326.9L176.2,325.4L177.3,320.9L178.2,318.3L178.9,317.0L181.1,314.9L183.2,312.5L184.6,309.4L184.6,302.6L183.6,300.8L185.7,298.7ZM197.5,290.0L199.0,289.5L199.3,292.8L197.8,293.5Z" fill="none" stroke="#8c8c8c" stroke-width="0.45" stroke-linejoin="round"/>
<path d="M228.2,456.3L229.2,457.3L232.7,459.8L237.1,461.5L234.7,462.3L231.2,462.0L228.0,462.3L223.6,461.0L217.8,456.8L225.2,458.0L226.3,456.0Z" fill="none" stroke="#8c8c8c" stroke-width="0.45" stroke-linejoin="round"/>
<path d="M170.8,262.4L173.4,260.3L176.9,259.0L182.5,259.2L188.4,262.9L192.0,264.7L194.9,266.8L186.7,267.6L187.4,265.5L185.4,263.4L179.9,262.1L177.9,260.5L173.1,262.6Z" fill="none" stroke="#8c8c8c" stroke-width="0.45" stroke-linejoin="round"/>
<path d="M255.8,195.8L253.4,198.1L249.6,197.1L242.3,195.5L246.2,191.2L250.0,185.7L253.1,185.4L251.0,189.9L255.3,191.2Z" fill="none" stroke="#8c8c8c" stroke-width="0.45" stroke-linejoin="round"/>
<path d="M113.2,193.5L109.6,192.2L107.1,187.4L112.4,189.4Z" fill="none" stroke="#8c8c8c" stroke-width="0.45" stroke-linejoin="round"/>
<path d="M384.1,175.0L387.1,174.5L387.0,176.2L385.1,176.4Z" fill="none" stroke="#8c8c8c" stroke-width="0.45" stroke-linejoin="round"/>
<path d="M381.8,175.7L383.8,175.9L383.3,176.9L382.1,176.7Z" fill="none" stroke="#8c8c8c" stroke-width="0.45" stroke-linejoin="round"/>
<path d="M159.4,137.9L166.9,133.6L179.2,134.1L180.1,135.5L173.5,137.4L168.8,138.8L162.2,140.2Z" fill="none" stroke="#8c8c8c" stroke-width="0.45" stroke-linejoin="round"/>
<path d="M168.8,138.8L174.5,136.5L181.1,136.9L185.8,136.5L188.6,137.4L190.5,135.5L196.1,134.6L195.2,136.5L191.4,138.8L193.3,141.6L195.2,142.6L189.5,144.5L180.1,144.9L173.5,144.9L168.8,143.5L171.6,141.6L169.8,140.2Z" fill="none" stroke="#8c8c8c" stroke-width="0.45" stroke-linejoin="round"/>
<path d="M175.4,129.4L189.5,126.6L185.8,128.9L177.3,129.9Z" fill="none" stroke="#8c8c8c" stroke-width="0.45" stroke-linejoin="round"/>
<path d="M181.1,131.3L197.1,128.9L200.8,130.8L187.6,132.7L182.0,132.2Z" fill="none" stroke="#8c8c8c" stroke-width="0.45" stroke-linejoin="round"/>
<path d="M194.2,126.1L201.3,124.2L199.9,126.1Z" fill="none" stroke="#8c8c8c" stroke-width="0.45" stroke-linejoin="round"/>
<path d="M198.9,136.9L206.5,134.1L208.4,136.0L202.7,138.8Z" fill="none" stroke="#8c8c8c" stroke-width="0.45" stroke-linejoin="round"/>
<path d="M205.3,130.0L212.9,128.8L217.6,130.8L211.2,132.0Z" fill="none" stroke="#8c8c8c" stroke-width="0.45" stroke-linejoin="round"/>
<path d="M210.2,134.6L218.7,134.1L215.9,136.9L212.1,137.9Z" fill="none" stroke="#8c8c8c" stroke-width="0.45" stroke-linejoin="round"/>
<path d="M208.2,124.7L215.3,124.1L215.9,125.9L209.4,126.1Z" fill="none" stroke="#8c8c8c" stroke-width="0.45" stroke-linejoin="round"/>
<path d="M217.6,124.7L222.4,124.9L221.8,126.5L218.2,126.5Z" fill="none" stroke="#8c8c8c" stroke-width="0.45" stroke-linejoin="round"/>
<path d="M219.4,127.6L227.1,128.2L238.8,130.8L235.3,132.4L223.5,132.4L220.0,130.0Z" fill="none" stroke="#8c8c8c" stroke-width="0.45" stroke-linejoin="round"/>
<path d="M224.7,121.8L235.3,118.8L252.9,117.4L277.6,117.6L268.2,120.6L256.5,123.5L251.8,125.3L243.5,128.2L228.2,128.8L225.3,125.3Z" fill="none" stroke="#8c8c8c" stroke-width="0.45" stroke-linejoin="round"/>
<path d="M217.0,135.0L232.2,134.4L238.8,135.8L240.2,138.6L245.4,140.1L250.1,142.4L247.3,145.2L256.2,149.5L251.1,153.2L246.8,151.4L248.2,156.1L243.1,160.3L238.8,157.5L232.2,156.5L225.2,155.1L231.3,153.2L235.1,152.3L236.5,148.5L230.0,146.0L226.0,143.0L218.0,142.0L216.0,138.0Z" fill="none" stroke="#8c8c8c" stroke-width="0.45" stroke-linejoin="round"/>
<path d="M209.5,154.0L215.0,152.0L219.5,155.5L213.0,157.0Z" fill="none" stroke="#8c8c8c" stroke-width="0.45" stroke-linejoin="round"/>
<path d="M257.7,128.0L271.0,128.7L273.0,133.3L275.0,138.7L272.3,142.0L277.0,144.0L271.7,148.0L270.3,151.3L272.3,158.0L277.0,163.3L281.7,165.3L286.3,160.7L288.3,156.7L293.7,152.0L301.7,149.3L309.7,146.0L319.0,143.3L325.7,141.3L328.3,138.0L332.3,134.0L334.3,127.3L335.7,122.0L345.7,120.0L333.7,118.0L319.0,116.7L300.3,116.7L295.0,118.7L277.7,118.3L265.7,122.0L256.3,125.3Z" fill="none" stroke="#8c8c8c" stroke-width="0.45" stroke-linejoin="round"/>
<path d="M446.8,137.9L449.9,131.8L456.0,129.5L466.7,127.9L465.9,129.5L457.5,131.0L452.9,134.8L456.8,140.2L451.4,140.9Z" fill="none" stroke="#8c8c8c" stroke-width="0.45" stroke-linejoin="round"/>
<path d="M493.5,119.5L498.8,119.8L508.0,123.4L505.0,124.9L498.8,123.4Z" fill="none" stroke="#8c8c8c" stroke-width="0.45" stroke-linejoin="round"/>
<path d="M509.5,123.4L517.2,124.1L520.2,125.6L512.6,125.6Z" fill="none" stroke="#8c8c8c" stroke-width="0.45" stroke-linejoin="round"/>
<path d="M574.0,129.4L580.0,129.6L587.0,131.0L583.0,132.2L575.0,131.5Z" fill="none" stroke="#8c8c8c" stroke-width="0.45" stroke-linejoin="round"/>
<path d="M588.8,130.6L596.2,131.4L594.0,132.2L589.0,131.8Z" fill="none" stroke="#8c8c8c" stroke-width="0.45" stroke-linejoin="round"/>
<path d="M584.7,133.9L590.0,134.5L591.2,136.2L586.0,135.5Z" fill="none" stroke="#8c8c8c" stroke-width="0.45" stroke-linejoin="round"/>
<path d="M426.0,121.0L431.0,120.3L436.0,121.0L432.0,122.0Z" fill="none" stroke="#8c8c8c" stroke-width="0.45" stroke-linejoin="round"/>
<path d="M636.8,272.5L641.0,271.6L641.8,278.2L643.4,283.2L647.5,286.5L650.8,289.8L649.2,291.4L645.1,288.9L642.6,286.5L639.3,285.7L637.7,279.9Z" fill="none" stroke="#8c8c8c" stroke-width="0.45" stroke-linejoin="round"/>
<path d="M642.6,289.8L645.9,290.6L645.1,293.9L643.4,293.1Z" fill="none" stroke="#8c8c8c" stroke-width="0.45" stroke-linejoin="round"/>
<path d="M649.2,291.4L652.5,294.7L650.8,298.8L648.4,296.4Z" fill="none" stroke="#8c8c8c" stroke-width="0.45" stroke-linejoin="round"/>
<path d="M643.4,298.0L647.5,297.2L648.4,300.5L645.1,301.3Z" fill="none" stroke="#8c8c8c" stroke-width="0.45" stroke-linejoin="round"/>
<path d="M645.9,298.8L652.5,296.4L654.1,301.3L652.5,305.4L649.2,303.8L646.7,302.1Z" fill="none" stroke="#8c8c8c" stroke-width="0.45" stroke-linejoin="round"/>
<path d="M632.7,298.0L637.7,290.6L636.8,292.2L633.5,297.2Z" fill="none" stroke="#8c8c8c" stroke-width="0.45" stroke-linejoin="round"/>
<path d="M640.1,318.6L651.7,316.1L650.8,318.6L642.6,321.1L641.0,324.4L645.9,322.7L647.5,324.4L642.6,326.8L643.4,331.8L645.9,334.3L643.4,335.1L640.1,331.0L639.3,334.3L637.7,333.4L636.8,326.0L638.5,321.1Z" fill="none" stroke="#8c8c8c" stroke-width="0.45" stroke-linejoin="round"/>
<path d="M582.5,305.4L586.6,307.1L594.8,313.7L601.4,319.4L607.2,326.8L607.2,335.1L605.5,335.9L598.1,327.7L591.5,319.4L584.9,311.2Z" fill="none" stroke="#8c8c8c" stroke-width="0.45" stroke-linejoin="round"/>
<path d="M606.4,335.9L613.0,336.7L619.5,337.5L627.8,340.8L626.1,342.5L616.2,340.8L608.0,338.4Z" fill="none" stroke="#8c8c8c" stroke-width="0.45" stroke-linejoin="round"/>
<path d="M704.5,334.5L710.0,333.0L713.5,331.0L710.5,327.0L711.5,326.5L715.5,330.0L715.0,332.5L710.0,335.5L706.0,336.0Z" fill="none" stroke="#8c8c8c" stroke-width="0.45" stroke-linejoin="round"/>
<path d="M719.0,333.0L721.0,335.0L722.0,338.0L720.0,337.5Z" fill="none" stroke="#8c8c8c" stroke-width="0.45" stroke-linejoin="round"/>
<path d="M723.0,337.5L725.5,339.0L725.0,339.5L722.8,338.0Z" fill="none" stroke="#8c8c8c" stroke-width="0.45" stroke-linejoin="round"/>
<path d="M727.5,339.5L733.0,341.5L732.5,342.2L727.3,340.2Z" fill="none" stroke="#8c8c8c" stroke-width="0.45" stroke-linejoin="round"/>
<path d="M730.0,344.0L735.5,348.5L735.0,349.0L729.7,344.7Z" fill="none" stroke="#8c8c8c" stroke-width="0.45" stroke-linejoin="round"/>
<path d="M743.5,358.0L745.0,359.5L745.5,363.0L744.3,362.5Z" fill="none" stroke="#8c8c8c" stroke-width="0.45" stroke-linejoin="round"/>
<path d="M767.0,366.5L769.5,364.0L770.5,365.0L768.0,367.0Z" fill="none" stroke="#8c8c8c" stroke-width="0.45" stroke-linejoin="round"/>
<path d="M734.5,372.5L736.0,372.3L740.0,377.5L739.0,378.2Z" fill="none" stroke="#8c8c8c" stroke-width="0.45" stroke-linejoin="round"/>
<path d="M8.5,266.5L11.5,267.8L11.0,270.5L9.0,270.0Z" fill="none" stroke="#8c8c8c" stroke-width="0.45" stroke-linejoin="round"/>
<path d="M5.0,263.2L8.0,264.3L7.5,265.0L5.0,264.0Z" fill="none" stroke="#8c8c8c" stroke-width="0.45" stroke-linejoin="round"/>
<path d="M2.0,261.5L3.3,261.8L3.0,262.5L1.8,262.2Z" fill="none" stroke="#8c8c8c" stroke-width="0.45" stroke-linejoin="round"/>
<path d="M194.5,270.2L196.5,268.6L199.0,268.5L203.0,268.6L207.5,271.5L205.0,272.8L201.0,272.5L199.0,273.2L198.0,271.8L196.0,271.8L194.0,271.6Z" fill="none" stroke="#8c8c8c" stroke-width="0.45" stroke-linejoin="round"/>
<path d="M185.0,271.8L188.0,271.4L190.0,272.6L187.0,273.4Z" fill="none" stroke="#8c8c8c" stroke-width="0.45" stroke-linejoin="round"/>
<path d="M209.5,272.3L213.5,272.1L214.0,273.0L210.0,273.3Z" fill="none" stroke="#8c8c8c" stroke-width="0.45" stroke-linejoin="round"/>
<path d="M186.5,249.5L188.5,249.8L190.5,251.5L189.0,251.2Z" fill="none" stroke="#8c8c8c" stroke-width="0.45" stroke-linejoin="round"/>
<path d="M186.8,254.0L188.0,254.3L188.3,256.5L187.2,256.0Z" fill="none" stroke="#8c8c8c" stroke-width="0.45" stroke-linejoin="round"/>
<path d="M221.8,291.2L224.5,291.0L224.2,292.8L222.0,292.6Z" fill="none" stroke="#8c8c8c" stroke-width="0.45" stroke-linejoin="round"/>
<g font-family="Liberation Sans, sans-serif" font-size="14" fill="#5e5e5e"><rect x="220.5" y="537.5" width="59.5" height="11" fill="#fff7ec" stroke="#a8a8a8" stroke-width="0.5"/>
<rect x="280.0" y="537.5" width="59.5" height="11" fill="#fee8c8" stroke="#a8a8a8" stroke-width="0.5"/>
<rect x="339.5" y="537.5" width="59.5" height="11" fill="#fdd49e" stroke="#a8a8a8" stroke-width="0.5"/>
<rect x="399.0" y="537.5" width="59.5" height="11" fill="#fdbb84" stroke="#a8a8a8" stroke-width="0.5"/>
<rect x="458.5" y="537.5" width="59.5" height="11" fill="#fc8d59" stroke="#a8a8a8" stroke-width="0.5"/>
<rect x="518.0" y="537.5" width="59.5" height="11" fill="#ef6548" stroke="#a8a8a8" stroke-width="0.5"/>
<rect x="577.5" y="537.5" width="59.5" height="11" fill="#d7301f" stroke="#a8a8a8" stroke-width="0.5"/>
<rect x="637.0" y="537.5" width="59.5" height="11" fill="#990000" stroke="#a8a8a8" stroke-width="0.5"/>
<line x1="220.5" y1="533" x2="220.5" y2="537.5" stroke="#a8a8a8" stroke-width="0.7"/>
<text x="220.5" y="530.8" text-anchor="middle">0</text>
<line x1="280.0" y1="533" x2="280.0" y2="537.5" stroke="#a8a8a8" stroke-width="0.7"/>
<text x="280.0" y="530.8" text-anchor="middle">1,000</text>
<line x1="339.5" y1="533" x2="339.5" y2="537.5" stroke="#a8a8a8" stroke-width="0.7"/>
<text x="339.5" y="530.8" text-anchor="middle">3,000</text>
<line x1="399.0" y1="533" x2="399.0" y2="537.5" stroke="#a8a8a8" stroke-width="0.7"/>
<text x="399.0" y="530.8" text-anchor="middle">10,000</text>
<line x1="458.5" y1="533" x2="458.5" y2="537.5" stroke="#a8a8a8" stroke-width="0.7"/>
<text x="458.5" y="530.8" text-anchor="middle">30,000</text>
<line x1="518.0" y1="533" x2="518.0" y2="537.5" stroke="#a8a8a8" stroke-width="0.7"/>
<text x="518.0" y="530.8" text-anchor="middle">100,000</text>
<line x1="577.5" y1="533" x2="577.5" y2="537.5" stroke="#a8a8a8" stroke-width="0.7"/>
<text x="577.5" y="530.8" text-anchor="middle">300,000</text>
<line x1="637.0" y1="533" x2="637.0" y2="537.5" stroke="#a8a8a8" stroke-width="0.7"/>
<text x="637.0" y="530.8" text-anchor="middle">1 million</text>
<line x1="696.5" y1="533" x2="696.5" y2="537.5" stroke="#a8a8a8" stroke-width="0.7"/>
<text x="696.5" y="530.8" text-anchor="middle">3 million</text>
<rect x="153.4" y="537.5" width="47.3" height="11" fill="url(#hatch)" stroke="#a8a8a8" stroke-width="0.5"/>
<text x="177" y="530.8" text-anchor="middle">No data</text>
<line x1="177" y1="533" x2="177" y2="537.5" stroke="#a8a8a8" stroke-width="0.7"/></g>
</svg>
<div class="t" style="left:16px;top:18.2px;font-family:'Liberation Serif',serif;font-weight:bold;font-size:28.6px;color:#333;transform-origin:0 0;transform:scaleX(0.941)">Deaths from chronic respiratory diseases, 2023</div>
<div class="t" style="left:16px;top:52.8px;font-family:'Liberation Sans',sans-serif;font-size:15.5px;color:#5b5b5b;transform-origin:0 0;transform:scaleX(0.95)">Annual number of deaths from chronic respiratory disease.</div>
<div style="position:absolute;left:769px;top:16px;width:65px;height:33px;background:#002147"></div>
<div style="position:absolute;left:769px;top:49px;width:65px;height:3px;background:#ce261e"></div>
<div class="t" style="left:769px;top:20.5px;width:65px;text-align:center;font-family:'Liberation Sans',sans-serif;font-weight:bold;font-size:11.6px;line-height:12px;color:#fff;letter-spacing:-0.35px">Our World<br>in Data</div>
<div class="t" style="left:16px;top:570.5px;font-family:'Liberation Sans',sans-serif;font-size:12.5px;color:#7f7f7f"><b>Data source:</b> IHME, Global Burden of Disease (2025)</div>
<div class="t" style="right:19px;top:570px;font-family:'Liberation Sans',sans-serif;font-size:13px;color:#7f7f7f">OurWorldinData.org/causes-of-death | CC BY</div>
</body></html>
